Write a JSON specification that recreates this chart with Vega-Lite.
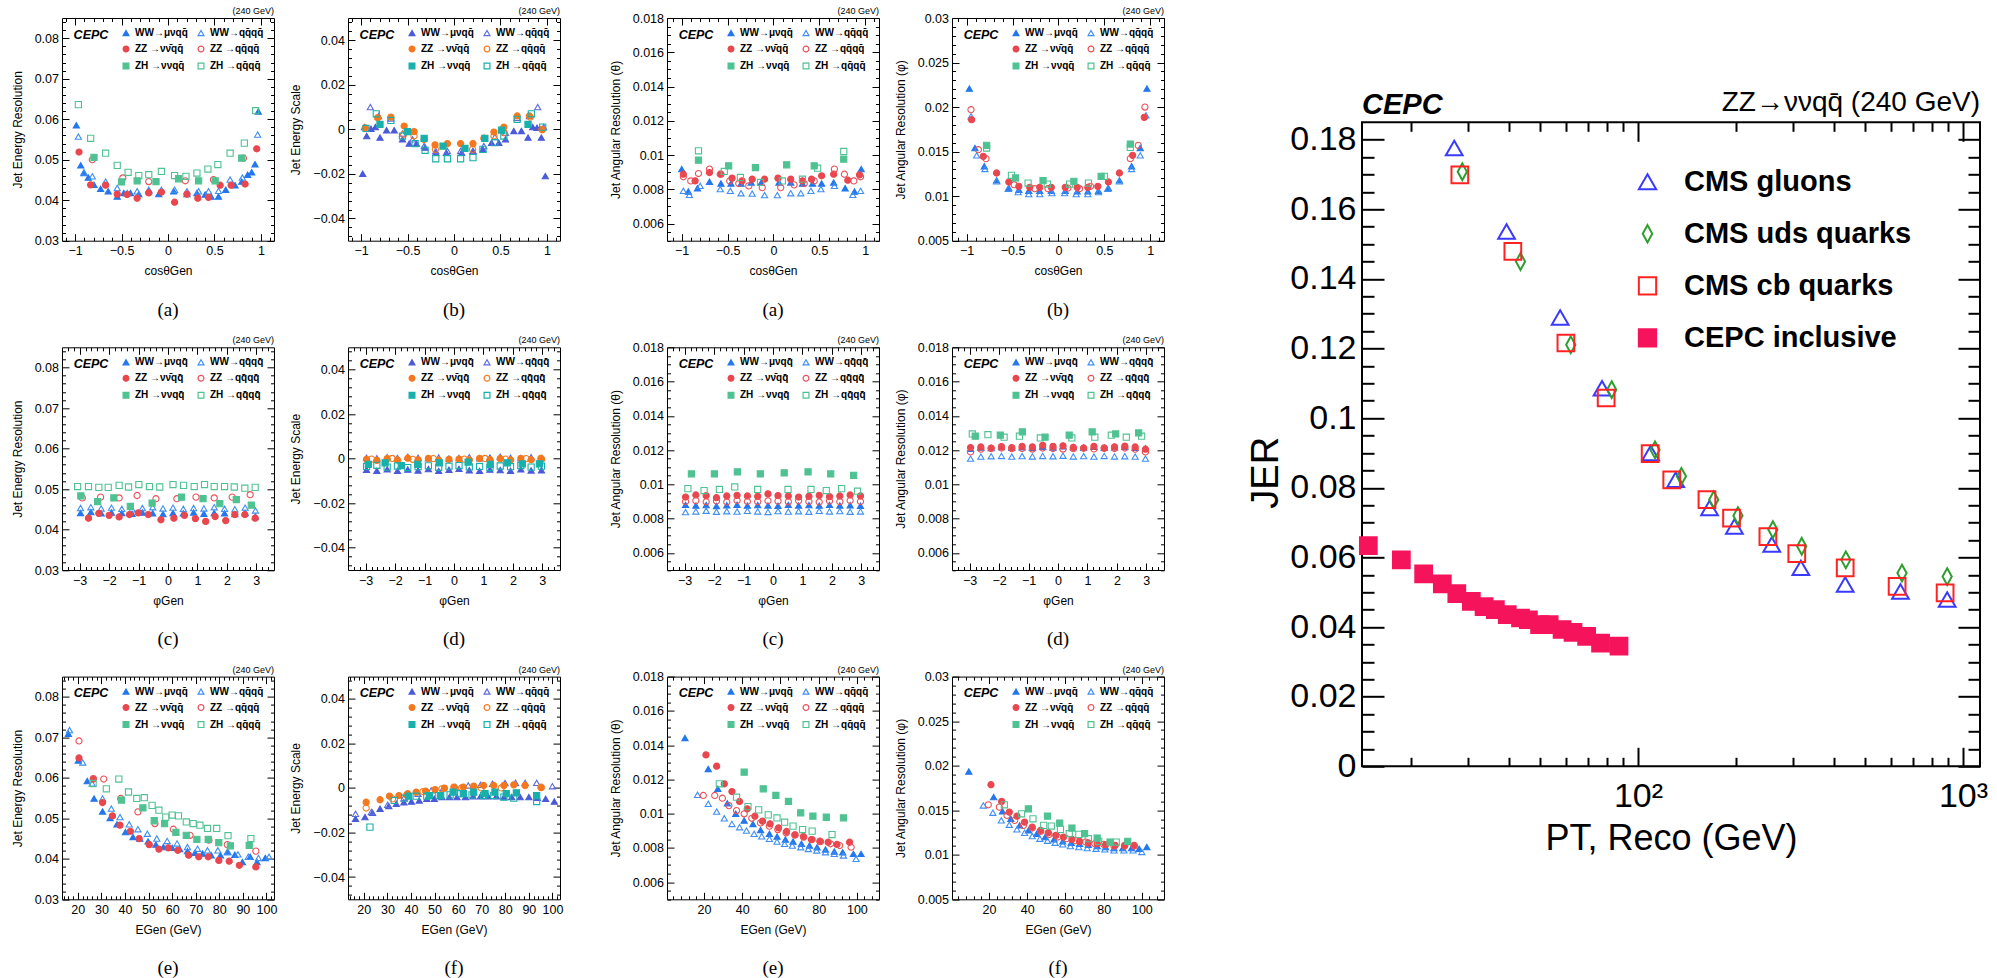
{
"$schema": "https://vega.github.io/schema/vega-lite/v6.json",
"padding": {"left": 10, "top": 6, "right": 0, "bottom": 0},
"background": "white",
"config": {
 "view": {"stroke": "black", "strokeWidth": 1},
 "axis": {"domain": false, "grid": false, "tickColor": "black", "tickWidth": 1, "labelFont": "Liberation Sans", "labelFontSize": 12.5, "labelColor": "black", "titleFont": "Liberation Sans", "titleFontSize": 12, "titleFontWeight": "normal", "titleColor": "black", "labelFlush": false, "labelOverlap": false},
 "legend": {"orient": "top-right", "offset": 10, "columns": 2, "padding": 0, "labelFont": "Liberation Sans", "labelFontSize": 10, "labelFontWeight": "bold", "labelColor": "black", "symbolSize": 34, "symbolStrokeWidth": 1.2, "rowPadding": 5, "columnPadding": 7, "labelOffset": 4, "labelLimit": 400},
 "text": {"font": "Liberation Sans", "color": "black"},
 "title": {"font": "Liberation Serif", "fontSize": 19, "fontWeight": "normal", "color": "black"}
},
"data": {"values": [
{"p":"A","s":"W1","x":-0.986,"y":0.0585},{"p":"A","s":"W1","x":-0.939,"y":0.0486},{"p":"A","s":"W1","x":-0.904,"y":0.0467},{"p":"A","s":"W1","x":-0.857,"y":0.0456},{"p":"A","s":"W1","x":-0.796,"y":0.0438},{"p":"A","s":"W1","x":-0.725,"y":0.0428},{"p":"A","s":"W1","x":-0.643,"y":0.0422},{"p":"A","s":"W1","x":-0.546,"y":0.0409},{"p":"A","s":"W1","x":-0.475,"y":0.0418},{"p":"A","s":"W1","x":-0.404,"y":0.0418},{"p":"A","s":"W1","x":-0.314,"y":0.0415},{"p":"A","s":"W1","x":-0.207,"y":0.0423},{"p":"A","s":"W1","x":-0.1,"y":0.0415},{"p":"A","s":"W1","x":0.061,"y":0.0422},{"p":"A","s":"W1","x":0.204,"y":0.0415},{"p":"A","s":"W1","x":0.311,"y":0.0418},{"p":"A","s":"W1","x":0.4,"y":0.0414},{"p":"A","s":"W1","x":0.464,"y":0.0409},{"p":"A","s":"W1","x":0.543,"y":0.0409},{"p":"A","s":"W1","x":0.621,"y":0.0426},{"p":"A","s":"W1","x":0.721,"y":0.0437},{"p":"A","s":"W1","x":0.793,"y":0.0446},{"p":"A","s":"W1","x":0.857,"y":0.0463},{"p":"A","s":"W1","x":0.9,"y":0.0469},{"p":"A","s":"W1","x":0.936,"y":0.0489},{"p":"A","s":"W1","x":0.971,"y":0.0619},
{"p":"A","s":"W2","x":-0.964,"y":0.0557},{"p":"A","s":"W2","x":-0.904,"y":0.0469},{"p":"A","s":"W2","x":-0.814,"y":0.0459},{"p":"A","s":"W2","x":-0.671,"y":0.0446},{"p":"A","s":"W2","x":-0.546,"y":0.043},{"p":"A","s":"W2","x":-0.439,"y":0.0418},{"p":"A","s":"W2","x":-0.332,"y":0.0422},{"p":"A","s":"W2","x":-0.207,"y":0.0426},{"p":"A","s":"W2","x":-0.071,"y":0.0426},{"p":"A","s":"W2","x":0.071,"y":0.0426},{"p":"A","s":"W2","x":0.204,"y":0.0422},{"p":"A","s":"W2","x":0.329,"y":0.0422},{"p":"A","s":"W2","x":0.436,"y":0.0422},{"p":"A","s":"W2","x":0.543,"y":0.0423},{"p":"A","s":"W2","x":0.668,"y":0.0451},{"p":"A","s":"W2","x":0.8,"y":0.0456},{"p":"A","s":"W2","x":0.964,"y":0.0562},
{"p":"A","s":"Z1","x":-0.957,"y":0.0519},{"p":"A","s":"Z1","x":-0.832,"y":0.0438},{"p":"A","s":"Z1","x":-0.671,"y":0.0437},{"p":"A","s":"Z1","x":-0.546,"y":0.0415},{"p":"A","s":"Z1","x":-0.439,"y":0.0414},{"p":"A","s":"Z1","x":-0.332,"y":0.0405},{"p":"A","s":"Z1","x":-0.207,"y":0.0418},{"p":"A","s":"Z1","x":-0.071,"y":0.042},{"p":"A","s":"Z1","x":0.071,"y":0.0395},{"p":"A","s":"Z1","x":0.204,"y":0.0415},{"p":"A","s":"Z1","x":0.321,"y":0.0405},{"p":"A","s":"Z1","x":0.436,"y":0.0407},{"p":"A","s":"Z1","x":0.561,"y":0.0437},{"p":"A","s":"Z1","x":0.679,"y":0.0437},{"p":"A","s":"Z1","x":0.829,"y":0.044},{"p":"A","s":"Z1","x":0.954,"y":0.0527},
{"p":"A","s":"Z2","x":-0.814,"y":0.05},{"p":"A","s":"Z2","x":-0.486,"y":0.0455},{"p":"A","s":"Z2","x":-0.207,"y":0.0446},{"p":"A","s":"Z2","x":0.186,"y":0.0448},{"p":"A","s":"Z2","x":0.489,"y":0.0451},{"p":"A","s":"Z2","x":0.811,"y":0.0504},
{"p":"A","s":"H1","x":-0.796,"y":0.0506},{"p":"A","s":"H1","x":-0.5,"y":0.0445},{"p":"A","s":"H1","x":-0.332,"y":0.0448},{"p":"A","s":"H1","x":-0.129,"y":0.0446},{"p":"A","s":"H1","x":0.114,"y":0.0453},{"p":"A","s":"H1","x":0.329,"y":0.0448},{"p":"A","s":"H1","x":0.507,"y":0.0448},{"p":"A","s":"H1","x":0.793,"y":0.0504},
{"p":"A","s":"H2","x":-0.964,"y":0.0636},{"p":"A","s":"H2","x":-0.832,"y":0.0553},{"p":"A","s":"H2","x":-0.671,"y":0.0516},{"p":"A","s":"H2","x":-0.546,"y":0.0486},{"p":"A","s":"H2","x":-0.429,"y":0.0469},{"p":"A","s":"H2","x":-0.314,"y":0.0461},{"p":"A","s":"H2","x":-0.207,"y":0.0463},{"p":"A","s":"H2","x":-0.071,"y":0.0471},{"p":"A","s":"H2","x":0.071,"y":0.0461},{"p":"A","s":"H2","x":0.193,"y":0.0459},{"p":"A","s":"H2","x":0.311,"y":0.0467},{"p":"A","s":"H2","x":0.429,"y":0.0477},{"p":"A","s":"H2","x":0.536,"y":0.0488},{"p":"A","s":"H2","x":0.668,"y":0.0516},{"p":"A","s":"H2","x":0.821,"y":0.0541},{"p":"A","s":"H2","x":0.943,"y":0.0621},
{"p":"B","s":"W1","x":-0.982,"y":-0.0199},{"p":"B","s":"W1","x":-0.939,"y":-0.003},{"p":"B","s":"W1","x":-0.893,"y":0.0003},{"p":"B","s":"W1","x":-0.846,"y":0.001},{"p":"B","s":"W1","x":-0.796,"y":-0.0037},{"p":"B","s":"W1","x":-0.725,"y":-0.0004},{"p":"B","s":"W1","x":-0.643,"y":-0.0004},{"p":"B","s":"W1","x":-0.554,"y":-0.0045},{"p":"B","s":"W1","x":-0.482,"y":-0.0064},{"p":"B","s":"W1","x":-0.404,"y":-0.0064},{"p":"B","s":"W1","x":-0.311,"y":-0.0082},{"p":"B","s":"W1","x":-0.196,"y":-0.0105},{"p":"B","s":"W1","x":-0.082,"y":-0.0105},{"p":"B","s":"W1","x":0.082,"y":-0.0105},{"p":"B","s":"W1","x":0.204,"y":-0.0097},{"p":"B","s":"W1","x":0.311,"y":-0.009},{"p":"B","s":"W1","x":0.404,"y":-0.006},{"p":"B","s":"W1","x":0.482,"y":-0.006},{"p":"B","s":"W1","x":0.554,"y":-0.0045},{"p":"B","s":"W1","x":0.643,"y":-0.0007},{"p":"B","s":"W1","x":0.725,"y":-0.0007},{"p":"B","s":"W1","x":0.796,"y":-0.0037},{"p":"B","s":"W1","x":0.846,"y":0.001},{"p":"B","s":"W1","x":0.893,"y":0.0007},{"p":"B","s":"W1","x":0.939,"y":-0.0037},{"p":"B","s":"W1","x":0.982,"y":-0.021},
{"p":"B","s":"W2","x":-0.964,"y":0.001},{"p":"B","s":"W2","x":-0.9,"y":0.01},{"p":"B","s":"W2","x":-0.811,"y":0.006},{"p":"B","s":"W2","x":-0.679,"y":0.0049},{"p":"B","s":"W2","x":-0.554,"y":-0.0019},{"p":"B","s":"W2","x":-0.446,"y":-0.0045},{"p":"B","s":"W2","x":-0.321,"y":-0.0075},{"p":"B","s":"W2","x":-0.196,"y":-0.0097},{"p":"B","s":"W2","x":-0.071,"y":-0.0097},{"p":"B","s":"W2","x":0.071,"y":-0.0097},{"p":"B","s":"W2","x":0.204,"y":-0.0097},{"p":"B","s":"W2","x":0.321,"y":-0.0075},{"p":"B","s":"W2","x":0.439,"y":-0.0034},{"p":"B","s":"W2","x":0.554,"y":-0.0015},{"p":"B","s":"W2","x":0.679,"y":0.0052},{"p":"B","s":"W2","x":0.811,"y":0.006},{"p":"B","s":"W2","x":0.9,"y":0.01},{"p":"B","s":"W2","x":0.964,"y":0.001},
{"p":"B","s":"Z1","x":-0.954,"y":0.0007},{"p":"B","s":"Z1","x":-0.821,"y":0.0052},{"p":"B","s":"Z1","x":-0.679,"y":0.0055},{"p":"B","s":"Z1","x":-0.536,"y":0.0015},{"p":"B","s":"Z1","x":-0.429,"y":-0.001},{"p":"B","s":"Z1","x":-0.321,"y":-0.0045},{"p":"B","s":"Z1","x":-0.204,"y":-0.007},{"p":"B","s":"Z1","x":-0.071,"y":-0.0064},{"p":"B","s":"Z1","x":0.071,"y":-0.0064},{"p":"B","s":"Z1","x":0.204,"y":-0.0064},{"p":"B","s":"Z1","x":0.321,"y":-0.004},{"p":"B","s":"Z1","x":0.429,"y":-0.0012},{"p":"B","s":"Z1","x":0.536,"y":0.001},{"p":"B","s":"Z1","x":0.679,"y":0.006},{"p":"B","s":"Z1","x":0.811,"y":0.006},{"p":"B","s":"Z1","x":0.946,"y":0},
{"p":"B","s":"Z2","x":-0.82,"y":0.0052},{"p":"B","s":"Z2","x":-0.54,"y":-0.0022},{"p":"B","s":"Z2","x":-0.43,"y":-0.003},{"p":"B","s":"Z2","x":-0.2,"y":-0.009},{"p":"B","s":"Z2","x":0.2,"y":-0.009},{"p":"B","s":"Z2","x":0.43,"y":-0.003},{"p":"B","s":"Z2","x":0.54,"y":-0.0015},{"p":"B","s":"Z2","x":0.82,"y":0.0055},{"p":"B","s":"Z2","x":0.95,"y":-0.0002},
{"p":"B","s":"H1","x":-0.796,"y":0.0022},{"p":"B","s":"H1","x":-0.5,"y":-0.001},{"p":"B","s":"H1","x":-0.321,"y":-0.004},{"p":"B","s":"H1","x":-0.118,"y":-0.0075},{"p":"B","s":"H1","x":0.118,"y":-0.0085},{"p":"B","s":"H1","x":0.332,"y":-0.004},{"p":"B","s":"H1","x":0.511,"y":-0.0004},{"p":"B","s":"H1","x":0.796,"y":0.0022},
{"p":"B","s":"H2","x":-0.946,"y":0.0004},{"p":"B","s":"H2","x":-0.836,"y":0.007},{"p":"B","s":"H2","x":-0.679,"y":0.004},{"p":"B","s":"H2","x":-0.554,"y":-0.003},{"p":"B","s":"H2","x":-0.418,"y":-0.0064},{"p":"B","s":"H2","x":-0.311,"y":-0.0094},{"p":"B","s":"H2","x":-0.196,"y":-0.0132},{"p":"B","s":"H2","x":-0.071,"y":-0.0132},{"p":"B","s":"H2","x":0.071,"y":-0.0132},{"p":"B","s":"H2","x":0.204,"y":-0.0127},{"p":"B","s":"H2","x":0.311,"y":-0.009},{"p":"B","s":"H2","x":0.439,"y":-0.006},{"p":"B","s":"H2","x":0.536,"y":-0.003},{"p":"B","s":"H2","x":0.679,"y":0.0045},{"p":"B","s":"H2","x":0.832,"y":0.007},{"p":"B","s":"H2","x":0.954,"y":0.001},
{"p":"C","s":"W1","x":-2.97,"y":0.0441},{"p":"C","s":"W1","x":-2.62,"y":0.0443},{"p":"C","s":"W1","x":-2.27,"y":0.044},{"p":"C","s":"W1","x":-1.92,"y":0.0442},{"p":"C","s":"W1","x":-1.57,"y":0.0441},{"p":"C","s":"W1","x":-1.22,"y":0.0439},{"p":"C","s":"W1","x":-0.87,"y":0.0442},{"p":"C","s":"W1","x":-0.52,"y":0.044},{"p":"C","s":"W1","x":-0.17,"y":0.0438},{"p":"C","s":"W1","x":0.17,"y":0.0441},{"p":"C","s":"W1","x":0.52,"y":0.044},{"p":"C","s":"W1","x":0.87,"y":0.0442},{"p":"C","s":"W1","x":1.22,"y":0.0439},{"p":"C","s":"W1","x":1.57,"y":0.0441},{"p":"C","s":"W1","x":1.92,"y":0.044},{"p":"C","s":"W1","x":2.27,"y":0.0438},{"p":"C","s":"W1","x":2.62,"y":0.0441},{"p":"C","s":"W1","x":2.97,"y":0.0432},
{"p":"C","s":"W2","x":-2.97,"y":0.0453},{"p":"C","s":"W2","x":-2.62,"y":0.0455},{"p":"C","s":"W2","x":-2.27,"y":0.0452},{"p":"C","s":"W2","x":-1.92,"y":0.0454},{"p":"C","s":"W2","x":-1.57,"y":0.0451},{"p":"C","s":"W2","x":-1.22,"y":0.045},{"p":"C","s":"W2","x":-0.87,"y":0.0453},{"p":"C","s":"W2","x":-0.52,"y":0.0455},{"p":"C","s":"W2","x":-0.17,"y":0.0452},{"p":"C","s":"W2","x":0.17,"y":0.0454},{"p":"C","s":"W2","x":0.52,"y":0.0451},{"p":"C","s":"W2","x":0.87,"y":0.0453},{"p":"C","s":"W2","x":1.22,"y":0.0452},{"p":"C","s":"W2","x":1.57,"y":0.0455},{"p":"C","s":"W2","x":1.92,"y":0.0451},{"p":"C","s":"W2","x":2.27,"y":0.045},{"p":"C","s":"W2","x":2.62,"y":0.0454},{"p":"C","s":"W2","x":2.97,"y":0.0447},
{"p":"C","s":"Z1","x":-2.7,"y":0.0428},{"p":"C","s":"Z1","x":-2.35,"y":0.044},{"p":"C","s":"Z1","x":-2.0,"y":0.0435},{"p":"C","s":"Z1","x":-1.66,"y":0.0431},{"p":"C","s":"Z1","x":-1.31,"y":0.0437},{"p":"C","s":"Z1","x":-1.01,"y":0.0441},{"p":"C","s":"Z1","x":-0.67,"y":0.0437},{"p":"C","s":"Z1","x":-0.24,"y":0.0424},{"p":"C","s":"Z1","x":0.2,"y":0.0428},{"p":"C","s":"Z1","x":0.56,"y":0.0435},{"p":"C","s":"Z1","x":0.93,"y":0.0427},{"p":"C","s":"Z1","x":1.28,"y":0.042},{"p":"C","s":"Z1","x":1.6,"y":0.0432},{"p":"C","s":"Z1","x":1.96,"y":0.0422},{"p":"C","s":"Z1","x":2.27,"y":0.0437},{"p":"C","s":"Z1","x":2.61,"y":0.0437},{"p":"C","s":"Z1","x":2.96,"y":0.0428},
{"p":"C","s":"Z2","x":-2.91,"y":0.0478},{"p":"C","s":"Z2","x":-2.29,"y":0.048},{"p":"C","s":"Z2","x":-1.66,"y":0.0478},{"p":"C","s":"Z2","x":-1.05,"y":0.0484},{"p":"C","s":"Z2","x":-0.41,"y":0.0476},{"p":"C","s":"Z2","x":0.3,"y":0.0476},{"p":"C","s":"Z2","x":0.95,"y":0.048},{"p":"C","s":"Z2","x":1.57,"y":0.0478},{"p":"C","s":"Z2","x":2.18,"y":0.048},{"p":"C","s":"Z2","x":2.79,"y":0.0486},
{"p":"C","s":"H1","x":-2.96,"y":0.0483},{"p":"C","s":"H1","x":-2.39,"y":0.0469},{"p":"C","s":"H1","x":-1.84,"y":0.0478},{"p":"C","s":"H1","x":-1.28,"y":0.0457},{"p":"C","s":"H1","x":-0.54,"y":0.0465},{"p":"C","s":"H1","x":0.46,"y":0.048},{"p":"C","s":"H1","x":1.19,"y":0.0476},{"p":"C","s":"H1","x":1.76,"y":0.0464},{"p":"C","s":"H1","x":2.32,"y":0.0474},{"p":"C","s":"H1","x":2.83,"y":0.046},
{"p":"C","s":"H2","x":-3.07,"y":0.0506},{"p":"C","s":"H2","x":-2.7,"y":0.0506},{"p":"C","s":"H2","x":-2.35,"y":0.0504},{"p":"C","s":"H2","x":-2.03,"y":0.0504},{"p":"C","s":"H2","x":-1.66,"y":0.0509},{"p":"C","s":"H2","x":-1.34,"y":0.0505},{"p":"C","s":"H2","x":-0.99,"y":0.0511},{"p":"C","s":"H2","x":-0.63,"y":0.0506},{"p":"C","s":"H2","x":-0.28,"y":0.0505},{"p":"C","s":"H2","x":0.17,"y":0.0511},{"p":"C","s":"H2","x":0.53,"y":0.0509},{"p":"C","s":"H2","x":0.89,"y":0.0506},{"p":"C","s":"H2","x":1.24,"y":0.0511},{"p":"C","s":"H2","x":1.57,"y":0.0506},{"p":"C","s":"H2","x":1.92,"y":0.0506},{"p":"C","s":"H2","x":2.25,"y":0.0505},{"p":"C","s":"H2","x":2.61,"y":0.0502},{"p":"C","s":"H2","x":2.96,"y":0.0504},
{"p":"D","s":"W1","x":-2.97,"y":-0.005},{"p":"D","s":"W1","x":-2.62,"y":-0.0054},{"p":"D","s":"W1","x":-2.27,"y":-0.0048},{"p":"D","s":"W1","x":-1.92,"y":-0.0055},{"p":"D","s":"W1","x":-1.57,"y":-0.0049},{"p":"D","s":"W1","x":-1.22,"y":-0.0053},{"p":"D","s":"W1","x":-0.87,"y":-0.0047},{"p":"D","s":"W1","x":-0.52,"y":-0.0055},{"p":"D","s":"W1","x":-0.17,"y":-0.005},{"p":"D","s":"W1","x":0.17,"y":-0.0046},{"p":"D","s":"W1","x":0.52,"y":-0.0052},{"p":"D","s":"W1","x":0.87,"y":-0.0055},{"p":"D","s":"W1","x":1.22,"y":-0.0049},{"p":"D","s":"W1","x":1.57,"y":-0.0051},{"p":"D","s":"W1","x":1.92,"y":-0.0054},{"p":"D","s":"W1","x":2.27,"y":-0.0048},{"p":"D","s":"W1","x":2.62,"y":-0.0053},{"p":"D","s":"W1","x":2.97,"y":-0.0052},
{"p":"D","s":"W2","x":-2.97,"y":0.0004},{"p":"D","s":"W2","x":-2.62,"y":0.0002},{"p":"D","s":"W2","x":-2.27,"y":0.0006},{"p":"D","s":"W2","x":-1.92,"y":0.0003},{"p":"D","s":"W2","x":-1.57,"y":0.0008},{"p":"D","s":"W2","x":-1.22,"y":0.0004},{"p":"D","s":"W2","x":-0.87,"y":0.0002},{"p":"D","s":"W2","x":-0.52,"y":0.0005},{"p":"D","s":"W2","x":-0.17,"y":0.0001},{"p":"D","s":"W2","x":0.17,"y":0.0003},{"p":"D","s":"W2","x":0.52,"y":0.0006},{"p":"D","s":"W2","x":0.87,"y":0.0002},{"p":"D","s":"W2","x":1.22,"y":0.0005},{"p":"D","s":"W2","x":1.57,"y":0.0009},{"p":"D","s":"W2","x":1.92,"y":0.0004},{"p":"D","s":"W2","x":2.27,"y":0.0002},{"p":"D","s":"W2","x":2.62,"y":0.0006},{"p":"D","s":"W2","x":2.97,"y":0.0003},
{"p":"D","s":"Z1","x":-2.97,"y":-0.0003},{"p":"D","s":"Z1","x":-2.62,"y":-0.0008},{"p":"D","s":"Z1","x":-2.27,"y":0},{"p":"D","s":"Z1","x":-1.92,"y":-0.0006},{"p":"D","s":"Z1","x":-1.57,"y":0.0002},{"p":"D","s":"Z1","x":-1.22,"y":-0.0005},{"p":"D","s":"Z1","x":-0.87,"y":0.0001},{"p":"D","s":"Z1","x":-0.52,"y":-0.0007},{"p":"D","s":"Z1","x":-0.17,"y":-0.0003},{"p":"D","s":"Z1","x":0.17,"y":-0.0002},{"p":"D","s":"Z1","x":0.52,"y":-0.0006},{"p":"D","s":"Z1","x":0.87,"y":0.0001},{"p":"D","s":"Z1","x":1.22,"y":-0.0004},{"p":"D","s":"Z1","x":1.57,"y":0},{"p":"D","s":"Z1","x":1.92,"y":-0.0006},{"p":"D","s":"Z1","x":2.27,"y":0.0001},{"p":"D","s":"Z1","x":2.62,"y":-0.0005},{"p":"D","s":"Z1","x":2.97,"y":-0.0002},
{"p":"D","s":"Z2","x":-2.8,"y":-0.0002},{"p":"D","s":"Z2","x":-2.1,"y":0.0001},{"p":"D","s":"Z2","x":-1.4,"y":-0.0003},{"p":"D","s":"Z2","x":-0.7,"y":0},{"p":"D","s":"Z2","x":0.35,"y":-0.0002},{"p":"D","s":"Z2","x":1.05,"y":0.0001},{"p":"D","s":"Z2","x":1.75,"y":-0.0002},{"p":"D","s":"Z2","x":2.45,"y":0},{"p":"D","s":"Z2","x":2.95,"y":0.0001},
{"p":"D","s":"H1","x":-2.91,"y":-0.0026},{"p":"D","s":"H1","x":-2.34,"y":-0.0019},{"p":"D","s":"H1","x":-1.79,"y":-0.0031},{"p":"D","s":"H1","x":-1.23,"y":-0.0026},{"p":"D","s":"H1","x":-0.5,"y":-0.0019},{"p":"D","s":"H1","x":0.48,"y":-0.0016},{"p":"D","s":"H1","x":1.23,"y":-0.0026},{"p":"D","s":"H1","x":1.81,"y":-0.0019},{"p":"D","s":"H1","x":2.32,"y":-0.0023},{"p":"D","s":"H1","x":2.9,"y":-0.0023},
{"p":"D","s":"H2","x":-2.97,"y":-0.0035},{"p":"D","s":"H2","x":-2.62,"y":-0.003},{"p":"D","s":"H2","x":-2.27,"y":-0.0038},{"p":"D","s":"H2","x":-1.92,"y":-0.0033},{"p":"D","s":"H2","x":-1.57,"y":-0.004},{"p":"D","s":"H2","x":-1.22,"y":-0.0036},{"p":"D","s":"H2","x":-0.87,"y":-0.0032},{"p":"D","s":"H2","x":-0.52,"y":-0.0039},{"p":"D","s":"H2","x":-0.17,"y":-0.0034},{"p":"D","s":"H2","x":0.17,"y":-0.0031},{"p":"D","s":"H2","x":0.52,"y":-0.0037},{"p":"D","s":"H2","x":0.87,"y":-0.0035},{"p":"D","s":"H2","x":1.22,"y":-0.004},{"p":"D","s":"H2","x":1.57,"y":-0.0033},{"p":"D","s":"H2","x":1.92,"y":-0.0036},{"p":"D","s":"H2","x":2.27,"y":-0.0031},{"p":"D","s":"H2","x":2.62,"y":-0.0038},{"p":"D","s":"H2","x":2.97,"y":-0.0034},
{"p":"E","s":"W1","x":16,"y":0.0709},{"p":"E","s":"W1","x":20.2,"y":0.0643},{"p":"E","s":"W1","x":24,"y":0.0592},{"p":"E","s":"W1","x":26.9,"y":0.0549},{"p":"E","s":"W1","x":30.5,"y":0.0517},{"p":"E","s":"W1","x":33.7,"y":0.0501},{"p":"E","s":"W1","x":36.6,"y":0.0485},{"p":"E","s":"W1","x":40.2,"y":0.0466},{"p":"E","s":"W1","x":43.4,"y":0.0454},{"p":"E","s":"W1","x":46.3,"y":0.045},{"p":"E","s":"W1","x":49.8,"y":0.0443},{"p":"E","s":"W1","x":53.1,"y":0.0435},{"p":"E","s":"W1","x":56.3,"y":0.0429},{"p":"E","s":"W1","x":60,"y":0.0427},{"p":"E","s":"W1","x":63.2,"y":0.0424},{"p":"E","s":"W1","x":66.5,"y":0.0419},{"p":"E","s":"W1","x":69.7,"y":0.0415},{"p":"E","s":"W1","x":72.9,"y":0.0413},{"p":"E","s":"W1","x":76.6,"y":0.0409},{"p":"E","s":"W1","x":80.5,"y":0.0409},{"p":"E","s":"W1","x":83.4,"y":0.0417},{"p":"E","s":"W1","x":86.6,"y":0.041},{"p":"E","s":"W1","x":89.8,"y":0.0392},{"p":"E","s":"W1","x":93.1,"y":0.0405},{"p":"E","s":"W1","x":96,"y":0.0392},{"p":"E","s":"W1","x":99.5,"y":0.0402},
{"p":"E","s":"W2","x":16.5,"y":0.0718},{"p":"E","s":"W2","x":22.1,"y":0.0638},{"p":"E","s":"W2","x":26.1,"y":0.0586},{"p":"E","s":"W2","x":30.5,"y":0.0549},{"p":"E","s":"W2","x":34.2,"y":0.0524},{"p":"E","s":"W2","x":37.9,"y":0.0503},{"p":"E","s":"W2","x":41.8,"y":0.0485},{"p":"E","s":"W2","x":45.5,"y":0.0473},{"p":"E","s":"W2","x":49.5,"y":0.0462},{"p":"E","s":"W2","x":53.5,"y":0.045},{"p":"E","s":"W2","x":57.9,"y":0.0444},{"p":"E","s":"W2","x":62.1,"y":0.0438},{"p":"E","s":"W2","x":66.5,"y":0.0429},{"p":"E","s":"W2","x":70.8,"y":0.0425},{"p":"E","s":"W2","x":75,"y":0.0421},{"p":"E","s":"W2","x":79.4,"y":0.0421},{"p":"E","s":"W2","x":83.7,"y":0.0417},{"p":"E","s":"W2","x":87.9,"y":0.0411},{"p":"E","s":"W2","x":92.3,"y":0.0405},{"p":"E","s":"W2","x":96.6,"y":0.0402},{"p":"E","s":"W2","x":101.1,"y":0.0405},
{"p":"E","s":"Z1","x":20.5,"y":0.0649},{"p":"E","s":"Z1","x":26.6,"y":0.0597},{"p":"E","s":"Z1","x":30.5,"y":0.0539},{"p":"E","s":"Z1","x":34.7,"y":0.0506},{"p":"E","s":"Z1","x":37.9,"y":0.0483},{"p":"E","s":"Z1","x":42.3,"y":0.0468},{"p":"E","s":"Z1","x":46,"y":0.045},{"p":"E","s":"Z1","x":50.3,"y":0.0435},{"p":"E","s":"Z1","x":54.4,"y":0.0424},{"p":"E","s":"Z1","x":58.4,"y":0.0427},{"p":"E","s":"Z1","x":62.4,"y":0.0421},{"p":"E","s":"Z1","x":67,"y":0.0409},{"p":"E","s":"Z1","x":71.3,"y":0.0405},{"p":"E","s":"Z1","x":75.3,"y":0.0405},{"p":"E","s":"Z1","x":79.8,"y":0.0396},{"p":"E","s":"Z1","x":84.2,"y":0.0394},{"p":"E","s":"Z1","x":88.5,"y":0.0384},{"p":"E","s":"Z1","x":95.5,"y":0.038},
{"p":"E","s":"Z2","x":20.5,"y":0.0691},{"p":"E","s":"Z2","x":26.6,"y":0.0598},{"p":"E","s":"Z2","x":31,"y":0.0597},{"p":"E","s":"Z2","x":38.2,"y":0.0549},{"p":"E","s":"Z2","x":45.5,"y":0.0516},{"p":"E","s":"Z2","x":52.7,"y":0.0487},{"p":"E","s":"Z2","x":60.5,"y":0.0473},{"p":"E","s":"Z2","x":67.6,"y":0.0458},{"p":"E","s":"Z2","x":75.6,"y":0.0446},{"p":"E","s":"Z2","x":83.4,"y":0.0435},{"p":"E","s":"Z2","x":95.5,"y":0.0419},
{"p":"E","s":"H1","x":38.5,"y":0.0545},{"p":"E","s":"H1","x":47.6,"y":0.0526},{"p":"E","s":"H1","x":52.4,"y":0.0494},{"p":"E","s":"H1","x":56.8,"y":0.0487},{"p":"E","s":"H1","x":61.6,"y":0.0465},{"p":"E","s":"H1","x":66,"y":0.0458},{"p":"E","s":"H1","x":70.5,"y":0.0448},{"p":"E","s":"H1","x":75.3,"y":0.0448},{"p":"E","s":"H1","x":79.8,"y":0.044},{"p":"E","s":"H1","x":84.7,"y":0.0432},{"p":"E","s":"H1","x":92.7,"y":0.0433},
{"p":"E","s":"H2","x":26.5,"y":0.0586},{"p":"E","s":"H2","x":32.1,"y":0.0573},{"p":"E","s":"H2","x":37.4,"y":0.0597},{"p":"E","s":"H2","x":41.5,"y":0.0565},{"p":"E","s":"H2","x":45,"y":0.0549},{"p":"E","s":"H2","x":48.2,"y":0.0551},{"p":"E","s":"H2","x":51.5,"y":0.0532},{"p":"E","s":"H2","x":54.4,"y":0.052},{"p":"E","s":"H2","x":57.3,"y":0.0503},{"p":"E","s":"H2","x":60,"y":0.0508},{"p":"E","s":"H2","x":62.7,"y":0.0506},{"p":"E","s":"H2","x":66,"y":0.0491},{"p":"E","s":"H2","x":68.9,"y":0.0487},{"p":"E","s":"H2","x":71.8,"y":0.0483},{"p":"E","s":"H2","x":75,"y":0.0475},{"p":"E","s":"H2","x":78.9,"y":0.0475},{"p":"E","s":"H2","x":83.7,"y":0.0457},{"p":"E","s":"H2","x":93.4,"y":0.045},
{"p":"F","s":"W1","x":16.5,"y":-0.0138},{"p":"F","s":"W1","x":20.5,"y":-0.0131},{"p":"F","s":"W1","x":23.7,"y":-0.0111},{"p":"F","s":"W1","x":26.9,"y":-0.0093},{"p":"F","s":"W1","x":30.6,"y":-0.0081},{"p":"F","s":"W1","x":33.8,"y":-0.0071},{"p":"F","s":"W1","x":37,"y":-0.0064},{"p":"F","s":"W1","x":40.2,"y":-0.0061},{"p":"F","s":"W1","x":43.5,"y":-0.0056},{"p":"F","s":"W1","x":46.7,"y":-0.0049},{"p":"F","s":"W1","x":49.9,"y":-0.0049},{"p":"F","s":"W1","x":53.1,"y":-0.0041},{"p":"F","s":"W1","x":56.3,"y":-0.0041},{"p":"F","s":"W1","x":59.5,"y":-0.0041},{"p":"F","s":"W1","x":63.1,"y":-0.0041},{"p":"F","s":"W1","x":66.3,"y":-0.0037},{"p":"F","s":"W1","x":69.5,"y":-0.0037},{"p":"F","s":"W1","x":72.7,"y":-0.0037},{"p":"F","s":"W1","x":76.2,"y":-0.0037},{"p":"F","s":"W1","x":79.4,"y":-0.0041},{"p":"F","s":"W1","x":82.7,"y":-0.0041},{"p":"F","s":"W1","x":86.3,"y":-0.0041},{"p":"F","s":"W1","x":90,"y":-0.0041},{"p":"F","s":"W1","x":93.6,"y":-0.0044},{"p":"F","s":"W1","x":97.1,"y":-0.0049},{"p":"F","s":"W1","x":100.8,"y":-0.0061},
{"p":"F","s":"W2","x":16.5,"y":-0.0116},{"p":"F","s":"W2","x":23.2,"y":-0.0108},{"p":"F","s":"W2","x":30.1,"y":-0.0076},{"p":"F","s":"W2","x":37,"y":-0.0046},{"p":"F","s":"W2","x":43,"y":-0.0026},{"p":"F","s":"W2","x":48.6,"y":-0.0011},{"p":"F","s":"W2","x":53.7,"y":-0.0001},{"p":"F","s":"W2","x":59,"y":0.0004},{"p":"F","s":"W2","x":64.3,"y":0.0011},{"p":"F","s":"W2","x":69.5,"y":0.0014},{"p":"F","s":"W2","x":74.6,"y":0.0019},{"p":"F","s":"W2","x":79.9,"y":0.0022},{"p":"F","s":"W2","x":84.3,"y":0.0023},{"p":"F","s":"W2","x":88.4,"y":0.0023},{"p":"F","s":"W2","x":93.3,"y":0.0023},{"p":"F","s":"W2","x":100,"y":0.0008},
{"p":"F","s":"Z1","x":21,"y":-0.0064},{"p":"F","s":"Z1","x":26.9,"y":-0.0053},{"p":"F","s":"Z1","x":30.9,"y":-0.0037},{"p":"F","s":"Z1","x":34.9,"y":-0.0034},{"p":"F","s":"Z1","x":38.6,"y":-0.0026},{"p":"F","s":"Z1","x":42.2,"y":-0.0019},{"p":"F","s":"Z1","x":46.2,"y":-0.0014},{"p":"F","s":"Z1","x":50.2,"y":-0.0007},{"p":"F","s":"Z1","x":54.2,"y":-0.0001},{"p":"F","s":"Z1","x":58.2,"y":0.0004},{"p":"F","s":"Z1","x":62.2,"y":0.0004},{"p":"F","s":"Z1","x":66.6,"y":0.0008},{"p":"F","s":"Z1","x":70.8,"y":0.0011},{"p":"F","s":"Z1","x":75.1,"y":0.0011},{"p":"F","s":"Z1","x":79.4,"y":0.0011},{"p":"F","s":"Z1","x":83.6,"y":0.0014},{"p":"F","s":"Z1","x":88.4,"y":0.0011},{"p":"F","s":"Z1","x":95.2,"y":0.0001},
{"p":"F","s":"Z2","x":21,"y":-0.009},{"p":"F","s":"Z2","x":32.2,"y":-0.0049},{"p":"F","s":"Z2","x":38.2,"y":-0.0031},{"p":"F","s":"Z2","x":45.1,"y":-0.0016},{"p":"F","s":"Z2","x":53.1,"y":-0.0004},{"p":"F","s":"Z2","x":61.4,"y":0},{"p":"F","s":"Z2","x":69.8,"y":0},{"p":"F","s":"Z2","x":78.3,"y":0},{"p":"F","s":"Z2","x":95.2,"y":0.0004},
{"p":"F","s":"H1","x":39,"y":-0.0037},{"p":"F","s":"H1","x":47.8,"y":-0.0034},{"p":"F","s":"H1","x":52.6,"y":-0.0034},{"p":"F","s":"H1","x":57.9,"y":-0.0019},{"p":"F","s":"H1","x":62.2,"y":-0.0026},{"p":"F","s":"H1","x":66.6,"y":-0.0019},{"p":"F","s":"H1","x":71.4,"y":-0.0026},{"p":"F","s":"H1","x":75.6,"y":-0.0019},{"p":"F","s":"H1","x":80.4,"y":-0.0026},{"p":"F","s":"H1","x":84.7,"y":-0.0022},{"p":"F","s":"H1","x":93.3,"y":-0.0034},
{"p":"F","s":"H2","x":22.6,"y":-0.0176},{"p":"F","s":"H2","x":32.9,"y":-0.0056},{"p":"F","s":"H2","x":37.3,"y":-0.0046},{"p":"F","s":"H2","x":42.2,"y":-0.0037},{"p":"F","s":"H2","x":46.7,"y":-0.0037},{"p":"F","s":"H2","x":51.8,"y":-0.0034},{"p":"F","s":"H2","x":56.6,"y":-0.0031},{"p":"F","s":"H2","x":61.1,"y":-0.0026},{"p":"F","s":"H2","x":65.9,"y":-0.0031},{"p":"F","s":"H2","x":70.8,"y":-0.0034},{"p":"F","s":"H2","x":75.1,"y":-0.0034},{"p":"F","s":"H2","x":79.4,"y":-0.0041},{"p":"F","s":"H2","x":83.6,"y":-0.0046},{"p":"F","s":"H2","x":93.3,"y":-0.0061},
{"p":"G","s":"W1","x":-1.0,"y":0.00918},{"p":"G","s":"W1","x":-0.927,"y":0.00787},{"p":"G","s":"W1","x":-0.828,"y":0.00806},{"p":"G","s":"W1","x":-0.697,"y":0.00844},{"p":"G","s":"W1","x":-0.572,"y":0.00834},{"p":"G","s":"W1","x":-0.463,"y":0.00834},{"p":"G","s":"W1","x":-0.353,"y":0.00834},{"p":"G","s":"W1","x":-0.243,"y":0.0084},{"p":"G","s":"W1","x":-0.133,"y":0.0084},{"p":"G","s":"W1","x":0.06,"y":0.0084},{"p":"G","s":"W1","x":0.188,"y":0.0084},{"p":"G","s":"W1","x":0.316,"y":0.00834},{"p":"G","s":"W1","x":0.426,"y":0.00834},{"p":"G","s":"W1","x":0.525,"y":0.00834},{"p":"G","s":"W1","x":0.656,"y":0.0084},{"p":"G","s":"W1","x":0.781,"y":0.00806},{"p":"G","s":"W1","x":0.883,"y":0.00787},{"p":"G","s":"W1","x":0.956,"y":0.00918},
{"p":"G","s":"W2","x":-0.982,"y":0.00791},{"p":"G","s":"W2","x":-0.916,"y":0.00768},{"p":"G","s":"W2","x":-0.799,"y":0.0082},{"p":"G","s":"W2","x":-0.58,"y":0.00801},{"p":"G","s":"W2","x":-0.47,"y":0.00791},{"p":"G","s":"W2","x":-0.353,"y":0.00777},{"p":"G","s":"W2","x":-0.232,"y":0.00775},{"p":"G","s":"W2","x":-0.097,"y":0.00766},{"p":"G","s":"W2","x":0.042,"y":0.00766},{"p":"G","s":"W2","x":0.188,"y":0.00777},{"p":"G","s":"W2","x":0.298,"y":0.00777},{"p":"G","s":"W2","x":0.408,"y":0.00791},{"p":"G","s":"W2","x":0.517,"y":0.00801},{"p":"G","s":"W2","x":0.664,"y":0.0082},{"p":"G","s":"W2","x":0.865,"y":0.00768},{"p":"G","s":"W2","x":0.949,"y":0.00791},
{"p":"G","s":"Z1","x":-0.982,"y":0.00888},{"p":"G","s":"Z1","x":-0.854,"y":0.00849},{"p":"G","s":"Z1","x":-0.697,"y":0.00898},{"p":"G","s":"Z1","x":-0.572,"y":0.00888},{"p":"G","s":"Z1","x":-0.451,"y":0.00865},{"p":"G","s":"Z1","x":-0.342,"y":0.00849},{"p":"G","s":"Z1","x":-0.232,"y":0.00859},{"p":"G","s":"Z1","x":-0.097,"y":0.00859},{"p":"G","s":"Z1","x":0.049,"y":0.00865},{"p":"G","s":"Z1","x":0.188,"y":0.00859},{"p":"G","s":"Z1","x":0.316,"y":0.00849},{"p":"G","s":"Z1","x":0.415,"y":0.00859},{"p":"G","s":"Z1","x":0.525,"y":0.00879},{"p":"G","s":"Z1","x":0.656,"y":0.00888},{"p":"G","s":"Z1","x":0.81,"y":0.00853},{"p":"G","s":"Z1","x":0.938,"y":0.00884},
{"p":"G","s":"Z2","x":-0.982,"y":0.00873},{"p":"G","s":"Z2","x":-0.901,"y":0.00849},{"p":"G","s":"Z2","x":-0.817,"y":0.00892},{"p":"G","s":"Z2","x":-0.697,"y":0.00918},{"p":"G","s":"Z2","x":-0.58,"y":0.00888},{"p":"G","s":"Z2","x":-0.476,"y":0.00849},{"p":"G","s":"Z2","x":-0.378,"y":0.00834},{"p":"G","s":"Z2","x":-0.269,"y":0.0082},{"p":"G","s":"Z2","x":-0.122,"y":0.0081},{"p":"G","s":"Z2","x":0.079,"y":0.0081},{"p":"G","s":"Z2","x":0.225,"y":0.00826},{"p":"G","s":"Z2","x":0.335,"y":0.00834},{"p":"G","s":"Z2","x":0.444,"y":0.00849},{"p":"G","s":"Z2","x":0.664,"y":0.00918},{"p":"G","s":"Z2","x":0.773,"y":0.00888},{"p":"G","s":"Z2","x":0.876,"y":0.00849},{"p":"G","s":"Z2","x":0.949,"y":0.00873},
{"p":"G","s":"H1","x":-0.817,"y":0.0097},{"p":"G","s":"H1","x":-0.488,"y":0.00937},{"p":"G","s":"H1","x":-0.196,"y":0.00927},{"p":"G","s":"H1","x":0.144,"y":0.00943},{"p":"G","s":"H1","x":0.444,"y":0.00937},{"p":"G","s":"H1","x":0.766,"y":0.00976},
{"p":"G","s":"H2","x":-0.817,"y":0.01025},{"p":"G","s":"H2","x":-0.536,"y":0.00904},{"p":"G","s":"H2","x":-0.36,"y":0.00869},{"p":"G","s":"H2","x":-0.141,"y":0.0084},{"p":"G","s":"H2","x":0.097,"y":0.00849},{"p":"G","s":"H2","x":0.316,"y":0.00859},{"p":"G","s":"H2","x":0.481,"y":0.00923},{"p":"G","s":"H2","x":0.766,"y":0.01021},
{"p":"H","s":"W1","x":-0.971,"y":0.02207},{"p":"H","s":"W1","x":-0.91,"y":0.0154},{"p":"H","s":"W1","x":-0.808,"y":0.01335},{"p":"H","s":"W1","x":-0.674,"y":0.01177},{"p":"H","s":"W1","x":-0.541,"y":0.01091},{"p":"H","s":"W1","x":-0.432,"y":0.01073},{"p":"H","s":"W1","x":-0.324,"y":0.01061},{"p":"H","s":"W1","x":-0.204,"y":0.01061},{"p":"H","s":"W1","x":-0.078,"y":0.01061},{"p":"H","s":"W1","x":0.074,"y":0.01061},{"p":"H","s":"W1","x":0.204,"y":0.01054},{"p":"H","s":"W1","x":0.32,"y":0.01054},{"p":"H","s":"W1","x":0.436,"y":0.01061},{"p":"H","s":"W1","x":0.544,"y":0.01091},{"p":"H","s":"W1","x":0.664,"y":0.01177},{"p":"H","s":"W1","x":0.797,"y":0.01335},{"p":"H","s":"W1","x":0.891,"y":0.0154},{"p":"H","s":"W1","x":0.964,"y":0.02207},
{"p":"H","s":"W2","x":-0.953,"y":0.01896},{"p":"H","s":"W2","x":-0.891,"y":0.01458},{"p":"H","s":"W2","x":-0.801,"y":0.01305},{"p":"H","s":"W2","x":-0.674,"y":0.01166},{"p":"H","s":"W2","x":-0.548,"y":0.01084},{"p":"H","s":"W2","x":-0.439,"y":0.01046},{"p":"H","s":"W2","x":-0.324,"y":0.01024},{"p":"H","s":"W2","x":-0.204,"y":0.01024},{"p":"H","s":"W2","x":-0.071,"y":0.01035},{"p":"H","s":"W2","x":0.067,"y":0.01035},{"p":"H","s":"W2","x":0.193,"y":0.01024},{"p":"H","s":"W2","x":0.32,"y":0.01024},{"p":"H","s":"W2","x":0.436,"y":0.01046},{"p":"H","s":"W2","x":0.537,"y":0.01084},{"p":"H","s":"W2","x":0.664,"y":0.01166},{"p":"H","s":"W2","x":0.797,"y":0.01305},{"p":"H","s":"W2","x":0.891,"y":0.01458},{"p":"H","s":"W2","x":0.953,"y":0.01907},
{"p":"H","s":"Z1","x":-0.946,"y":0.01858},{"p":"H","s":"Z1","x":-0.819,"y":0.01447},{"p":"H","s":"Z1","x":-0.674,"y":0.0126},{"p":"H","s":"Z1","x":-0.541,"y":0.01159},{"p":"H","s":"Z1","x":-0.432,"y":0.0111},{"p":"H","s":"Z1","x":-0.313,"y":0.01099},{"p":"H","s":"Z1","x":-0.204,"y":0.01099},{"p":"H","s":"Z1","x":-0.078,"y":0.01099},{"p":"H","s":"Z1","x":0.074,"y":0.01099},{"p":"H","s":"Z1","x":0.204,"y":0.01099},{"p":"H","s":"Z1","x":0.32,"y":0.01099},{"p":"H","s":"Z1","x":0.429,"y":0.0111},{"p":"H","s":"Z1","x":0.544,"y":0.01159},{"p":"H","s":"Z1","x":0.664,"y":0.0126},{"p":"H","s":"Z1","x":0.808,"y":0.01458},{"p":"H","s":"Z1","x":0.935,"y":0.01885},
{"p":"H","s":"Z2","x":-0.953,"y":0.01971},{"p":"H","s":"Z2","x":-0.873,"y":0.01522},{"p":"H","s":"Z2","x":-0.79,"y":0.01421},{"p":"H","s":"Z2","x":-0.483,"y":0.01129},{"p":"H","s":"Z2","x":-0.258,"y":0.01084},{"p":"H","s":"Z2","x":-0.114,"y":0.01084},{"p":"H","s":"Z2","x":0.103,"y":0.01091},{"p":"H","s":"Z2","x":0.23,"y":0.01084},{"p":"H","s":"Z2","x":0.349,"y":0.0111},{"p":"H","s":"Z2","x":0.783,"y":0.01421},{"p":"H","s":"Z2","x":0.87,"y":0.0157},{"p":"H","s":"Z2","x":0.942,"y":0.02},
{"p":"H","s":"H1","x":-0.783,"y":0.0157},{"p":"H","s":"H1","x":-0.468,"y":0.01204},{"p":"H","s":"H1","x":-0.168,"y":0.01174},{"p":"H","s":"H1","x":0.168,"y":0.01166},{"p":"H","s":"H1","x":0.465,"y":0.01222},{"p":"H","s":"H1","x":0.783,"y":0.01585},
{"p":"H","s":"H2","x":-0.783,"y":0.0154},{"p":"H","s":"H2","x":-0.512,"y":0.01234},{"p":"H","s":"H2","x":-0.331,"y":0.01147},{"p":"H","s":"H2","x":-0.121,"y":0.01136},{"p":"H","s":"H2","x":0.121,"y":0.01136},{"p":"H","s":"H2","x":0.327,"y":0.01147},{"p":"H","s":"H2","x":0.501,"y":0.01222},{"p":"H","s":"H2","x":0.783,"y":0.01548},
{"p":"I","s":"W1","x":-2.97,"y":0.0088},{"p":"I","s":"W1","x":-2.62,"y":0.00876},{"p":"I","s":"W1","x":-2.27,"y":0.00879},{"p":"I","s":"W1","x":-1.92,"y":0.00874},{"p":"I","s":"W1","x":-1.57,"y":0.00878},{"p":"I","s":"W1","x":-1.22,"y":0.00881},{"p":"I","s":"W1","x":-0.87,"y":0.00876},{"p":"I","s":"W1","x":-0.52,"y":0.00879},{"p":"I","s":"W1","x":-0.17,"y":0.00877},{"p":"I","s":"W1","x":0.17,"y":0.00875},{"p":"I","s":"W1","x":0.52,"y":0.0088},{"p":"I","s":"W1","x":0.87,"y":0.00877},{"p":"I","s":"W1","x":1.22,"y":0.00879},{"p":"I","s":"W1","x":1.57,"y":0.00876},{"p":"I","s":"W1","x":1.92,"y":0.0088},{"p":"I","s":"W1","x":2.27,"y":0.00877},{"p":"I","s":"W1","x":2.62,"y":0.00878},{"p":"I","s":"W1","x":2.97,"y":0.00875},
{"p":"I","s":"W2","x":-2.97,"y":0.00838},{"p":"I","s":"W2","x":-2.62,"y":0.00842},{"p":"I","s":"W2","x":-2.27,"y":0.00846},{"p":"I","s":"W2","x":-1.92,"y":0.0084},{"p":"I","s":"W2","x":-1.57,"y":0.00843},{"p":"I","s":"W2","x":-1.22,"y":0.00841},{"p":"I","s":"W2","x":-0.87,"y":0.00845},{"p":"I","s":"W2","x":-0.52,"y":0.00842},{"p":"I","s":"W2","x":-0.17,"y":0.00839},{"p":"I","s":"W2","x":0.17,"y":0.00844},{"p":"I","s":"W2","x":0.52,"y":0.00841},{"p":"I","s":"W2","x":0.87,"y":0.00843},{"p":"I","s":"W2","x":1.22,"y":0.0084},{"p":"I","s":"W2","x":1.57,"y":0.00845},{"p":"I","s":"W2","x":1.92,"y":0.00842},{"p":"I","s":"W2","x":2.27,"y":0.00844},{"p":"I","s":"W2","x":2.62,"y":0.0084},{"p":"I","s":"W2","x":2.97,"y":0.00842},
{"p":"I","s":"Z1","x":-2.97,"y":0.00926},{"p":"I","s":"Z1","x":-2.62,"y":0.00938},{"p":"I","s":"Z1","x":-2.27,"y":0.00934},{"p":"I","s":"Z1","x":-1.92,"y":0.00922},{"p":"I","s":"Z1","x":-1.57,"y":0.00932},{"p":"I","s":"Z1","x":-1.22,"y":0.00936},{"p":"I","s":"Z1","x":-0.87,"y":0.00932},{"p":"I","s":"Z1","x":-0.52,"y":0.0093},{"p":"I","s":"Z1","x":-0.17,"y":0.00944},{"p":"I","s":"Z1","x":0.17,"y":0.00934},{"p":"I","s":"Z1","x":0.52,"y":0.00932},{"p":"I","s":"Z1","x":0.87,"y":0.00926},{"p":"I","s":"Z1","x":1.22,"y":0.0093},{"p":"I","s":"Z1","x":1.57,"y":0.00936},{"p":"I","s":"Z1","x":1.92,"y":0.00928},{"p":"I","s":"Z1","x":2.27,"y":0.00932},{"p":"I","s":"Z1","x":2.62,"y":0.00938},{"p":"I","s":"Z1","x":2.97,"y":0.00932},
{"p":"I","s":"Z2","x":-2.97,"y":0.009},{"p":"I","s":"Z2","x":-2.62,"y":0.00905},{"p":"I","s":"Z2","x":-2.27,"y":0.00898},{"p":"I","s":"Z2","x":-1.92,"y":0.00903},{"p":"I","s":"Z2","x":-1.57,"y":0.00897},{"p":"I","s":"Z2","x":-1.22,"y":0.00906},{"p":"I","s":"Z2","x":-0.87,"y":0.009},{"p":"I","s":"Z2","x":-0.52,"y":0.00899},{"p":"I","s":"Z2","x":-0.17,"y":0.00904},{"p":"I","s":"Z2","x":0.17,"y":0.00902},{"p":"I","s":"Z2","x":0.52,"y":0.00898},{"p":"I","s":"Z2","x":0.87,"y":0.00905},{"p":"I","s":"Z2","x":1.22,"y":0.009},{"p":"I","s":"Z2","x":1.57,"y":0.00897},{"p":"I","s":"Z2","x":1.92,"y":0.00903},{"p":"I","s":"Z2","x":2.27,"y":0.00899},{"p":"I","s":"Z2","x":2.62,"y":0.00906},{"p":"I","s":"Z2","x":2.97,"y":0.009},
{"p":"I","s":"H1","x":-2.77,"y":0.01061},{"p":"I","s":"H1","x":-1.99,"y":0.01061},{"p":"I","s":"H1","x":-1.21,"y":0.01073},{"p":"I","s":"H1","x":-0.43,"y":0.01061},{"p":"I","s":"H1","x":0.38,"y":0.01067},{"p":"I","s":"H1","x":1.19,"y":0.01073},{"p":"I","s":"H1","x":1.96,"y":0.01061},{"p":"I","s":"H1","x":2.74,"y":0.01053},
{"p":"I","s":"H2","x":-2.89,"y":0.00975},{"p":"I","s":"H2","x":-2.34,"y":0.00964},{"p":"I","s":"H2","x":-1.82,"y":0.0097},{"p":"I","s":"H2","x":-1.3,"y":0.00985},{"p":"I","s":"H2","x":-0.52,"y":0.0097},{"p":"I","s":"H2","x":0.51,"y":0.0097},{"p":"I","s":"H2","x":1.29,"y":0.0097},{"p":"I","s":"H2","x":1.81,"y":0.00964},{"p":"I","s":"H2","x":2.33,"y":0.00975},{"p":"I","s":"H2","x":2.87,"y":0.0096},
{"p":"J","s":"W1","x":-2.97,"y":0.01208},{"p":"J","s":"W1","x":-2.62,"y":0.01215},{"p":"J","s":"W1","x":-2.27,"y":0.01212},{"p":"J","s":"W1","x":-1.92,"y":0.01218},{"p":"J","s":"W1","x":-1.57,"y":0.01214},{"p":"J","s":"W1","x":-1.22,"y":0.01216},{"p":"J","s":"W1","x":-0.87,"y":0.01213},{"p":"J","s":"W1","x":-0.52,"y":0.0122},{"p":"J","s":"W1","x":-0.17,"y":0.01215},{"p":"J","s":"W1","x":0.17,"y":0.01222},{"p":"J","s":"W1","x":0.52,"y":0.01218},{"p":"J","s":"W1","x":0.87,"y":0.01215},{"p":"J","s":"W1","x":1.22,"y":0.01219},{"p":"J","s":"W1","x":1.57,"y":0.01213},{"p":"J","s":"W1","x":1.92,"y":0.01216},{"p":"J","s":"W1","x":2.27,"y":0.0122},{"p":"J","s":"W1","x":2.62,"y":0.01214},{"p":"J","s":"W1","x":2.97,"y":0.0121},
{"p":"J","s":"W2","x":-2.97,"y":0.0115},{"p":"J","s":"W2","x":-2.62,"y":0.01162},{"p":"J","s":"W2","x":-2.27,"y":0.01164},{"p":"J","s":"W2","x":-1.92,"y":0.01166},{"p":"J","s":"W2","x":-1.57,"y":0.01162},{"p":"J","s":"W2","x":-1.22,"y":0.01165},{"p":"J","s":"W2","x":-0.87,"y":0.01163},{"p":"J","s":"W2","x":-0.52,"y":0.01166},{"p":"J","s":"W2","x":-0.17,"y":0.01164},{"p":"J","s":"W2","x":0.17,"y":0.01167},{"p":"J","s":"W2","x":0.52,"y":0.01163},{"p":"J","s":"W2","x":0.87,"y":0.01165},{"p":"J","s":"W2","x":1.22,"y":0.01162},{"p":"J","s":"W2","x":1.57,"y":0.01166},{"p":"J","s":"W2","x":1.92,"y":0.01163},{"p":"J","s":"W2","x":2.27,"y":0.01164},{"p":"J","s":"W2","x":2.62,"y":0.01162},{"p":"J","s":"W2","x":2.97,"y":0.0115},
{"p":"J","s":"Z1","x":-2.97,"y":0.01215},{"p":"J","s":"Z1","x":-2.62,"y":0.01218},{"p":"J","s":"Z1","x":-2.27,"y":0.01212},{"p":"J","s":"Z1","x":-1.92,"y":0.0122},{"p":"J","s":"Z1","x":-1.57,"y":0.01214},{"p":"J","s":"Z1","x":-1.22,"y":0.01222},{"p":"J","s":"Z1","x":-0.87,"y":0.01219},{"p":"J","s":"Z1","x":-0.52,"y":0.01228},{"p":"J","s":"Z1","x":-0.17,"y":0.01222},{"p":"J","s":"Z1","x":0.17,"y":0.01225},{"p":"J","s":"Z1","x":0.52,"y":0.01216},{"p":"J","s":"Z1","x":0.87,"y":0.01212},{"p":"J","s":"Z1","x":1.22,"y":0.01222},{"p":"J","s":"Z1","x":1.57,"y":0.01213},{"p":"J","s":"Z1","x":1.92,"y":0.01219},{"p":"J","s":"Z1","x":2.27,"y":0.01223},{"p":"J","s":"Z1","x":2.62,"y":0.01218},{"p":"J","s":"Z1","x":2.97,"y":0.01205},
{"p":"J","s":"Z2","x":-2.97,"y":0.01189},{"p":"J","s":"Z2","x":-2.62,"y":0.01205},{"p":"J","s":"Z2","x":-2.27,"y":0.0121},{"p":"J","s":"Z2","x":-1.92,"y":0.01212},{"p":"J","s":"Z2","x":-1.57,"y":0.01208},{"p":"J","s":"Z2","x":-1.22,"y":0.0121},{"p":"J","s":"Z2","x":-0.87,"y":0.01206},{"p":"J","s":"Z2","x":-0.52,"y":0.01212},{"p":"J","s":"Z2","x":-0.17,"y":0.01209},{"p":"J","s":"Z2","x":0.17,"y":0.01206},{"p":"J","s":"Z2","x":0.52,"y":0.01208},{"p":"J","s":"Z2","x":0.87,"y":0.01211},{"p":"J","s":"Z2","x":1.22,"y":0.01207},{"p":"J","s":"Z2","x":1.57,"y":0.0121},{"p":"J","s":"Z2","x":1.92,"y":0.01209},{"p":"J","s":"Z2","x":2.27,"y":0.01212},{"p":"J","s":"Z2","x":2.62,"y":0.01205},{"p":"J","s":"Z2","x":2.97,"y":0.01189},
{"p":"J","s":"H1","x":-2.81,"y":0.01281},{"p":"J","s":"H1","x":-1.96,"y":0.01287},{"p":"J","s":"H1","x":-1.21,"y":0.01306},{"p":"J","s":"H1","x":-0.44,"y":0.01275},{"p":"J","s":"H1","x":0.38,"y":0.01287},{"p":"J","s":"H1","x":1.16,"y":0.01306},{"p":"J","s":"H1","x":1.96,"y":0.01294},{"p":"J","s":"H1","x":2.74,"y":0.013},
{"p":"J","s":"H2","x":-2.91,"y":0.01294},{"p":"J","s":"H2","x":-2.38,"y":0.0129},{"p":"J","s":"H2","x":-1.83,"y":0.01275},{"p":"J","s":"H2","x":-1.31,"y":0.01281},{"p":"J","s":"H2","x":-0.6,"y":0.01271},{"p":"J","s":"H2","x":0.47,"y":0.01271},{"p":"J","s":"H2","x":1.25,"y":0.01275},{"p":"J","s":"H2","x":1.81,"y":0.01287},{"p":"J","s":"H2","x":2.32,"y":0.01275},{"p":"J","s":"H2","x":2.84,"y":0.01281},
{"p":"K","s":"W1","x":10,"y":0.01442},{"p":"K","s":"W1","x":22.2,"y":0.01261},{"p":"K","s":"W1","x":27.2,"y":0.01145},{"p":"K","s":"W1","x":32.2,"y":0.01061},{"p":"K","s":"W1","x":36.6,"y":0.00999},{"p":"K","s":"W1","x":41,"y":0.0096},{"p":"K","s":"W1","x":45.6,"y":0.0094},{"p":"K","s":"W1","x":49.6,"y":0.00905},{"p":"K","s":"W1","x":54.2,"y":0.00882},{"p":"K","s":"W1","x":58.2,"y":0.00866},{"p":"K","s":"W1","x":62.6,"y":0.00849},{"p":"K","s":"W1","x":66.6,"y":0.00837},{"p":"K","s":"W1","x":71,"y":0.00824},{"p":"K","s":"W1","x":75.2,"y":0.00814},{"p":"K","s":"W1","x":79.2,"y":0.00804},{"p":"K","s":"W1","x":83.6,"y":0.00791},{"p":"K","s":"W1","x":88.2,"y":0.00779},{"p":"K","s":"W1","x":92.6,"y":0.00775},{"p":"K","s":"W1","x":98.2,"y":0.00765},{"p":"K","s":"W1","x":102.2,"y":0.00765},
{"p":"K","s":"W2","x":16.6,"y":0.0111},{"p":"K","s":"W2","x":22.2,"y":0.01057},{"p":"K","s":"W2","x":26.6,"y":0.01012},{"p":"K","s":"W2","x":30.6,"y":0.00973},{"p":"K","s":"W2","x":34.6,"y":0.0094},{"p":"K","s":"W2","x":38.6,"y":0.00921},{"p":"K","s":"W2","x":42.2,"y":0.00901},{"p":"K","s":"W2","x":46.2,"y":0.00882},{"p":"K","s":"W2","x":50.2,"y":0.00868},{"p":"K","s":"W2","x":54.2,"y":0.00853},{"p":"K","s":"W2","x":58.2,"y":0.00837},{"p":"K","s":"W2","x":62.2,"y":0.00824},{"p":"K","s":"W2","x":66.2,"y":0.00814},{"p":"K","s":"W2","x":70.6,"y":0.00804},{"p":"K","s":"W2","x":74.6,"y":0.00794},{"p":"K","s":"W2","x":79,"y":0.00785},{"p":"K","s":"W2","x":83.6,"y":0.00775},{"p":"K","s":"W2","x":88.2,"y":0.00765},{"p":"K","s":"W2","x":93,"y":0.00756},{"p":"K","s":"W2","x":99.6,"y":0.00736},
{"p":"K","s":"Z1","x":21,"y":0.01343},{"p":"K","s":"Z1","x":26.6,"y":0.01277},{"p":"K","s":"Z1","x":30.6,"y":0.01174},{"p":"K","s":"Z1","x":34.6,"y":0.01129},{"p":"K","s":"Z1","x":38.6,"y":0.01071},{"p":"K","s":"Z1","x":42.6,"y":0.01028},{"p":"K","s":"Z1","x":46.6,"y":0.00985},{"p":"K","s":"Z1","x":50.6,"y":0.00956},{"p":"K","s":"Z1","x":54.6,"y":0.0094},{"p":"K","s":"Z1","x":59,"y":0.00917},{"p":"K","s":"Z1","x":63.2,"y":0.00896},{"p":"K","s":"Z1","x":67.6,"y":0.00876},{"p":"K","s":"Z1","x":72,"y":0.00866},{"p":"K","s":"Z1","x":76.2,"y":0.00849},{"p":"K","s":"Z1","x":80.6,"y":0.00839},{"p":"K","s":"Z1","x":85,"y":0.00833},{"p":"K","s":"Z1","x":89.6,"y":0.0082},{"p":"K","s":"Z1","x":96.2,"y":0.00833},
{"p":"K","s":"Z2","x":19.6,"y":0.01106},{"p":"K","s":"Z2","x":25.6,"y":0.01106},{"p":"K","s":"Z2","x":29.6,"y":0.0109},{"p":"K","s":"Z2","x":33,"y":0.01047},{"p":"K","s":"Z2","x":37,"y":0.01018},{"p":"K","s":"Z2","x":41,"y":0.00999},{"p":"K","s":"Z2","x":45,"y":0.00973},{"p":"K","s":"Z2","x":49.6,"y":0.00946},{"p":"K","s":"Z2","x":54.2,"y":0.00927},{"p":"K","s":"Z2","x":58.6,"y":0.00907},{"p":"K","s":"Z2","x":63,"y":0.00888},{"p":"K","s":"Z2","x":67.6,"y":0.00876},{"p":"K","s":"Z2","x":72.2,"y":0.00863},{"p":"K","s":"Z2","x":76.6,"y":0.00849},{"p":"K","s":"Z2","x":81,"y":0.00837},{"p":"K","s":"Z2","x":86.2,"y":0.00824},{"p":"K","s":"Z2","x":91,"y":0.00814},{"p":"K","s":"Z2","x":97,"y":0.00804},
{"p":"K","s":"H1","x":41,"y":0.01242},{"p":"K","s":"H1","x":51,"y":0.01145},{"p":"K","s":"H1","x":57.6,"y":0.01106},{"p":"K","s":"H1","x":64.2,"y":0.01071},{"p":"K","s":"H1","x":70.6,"y":0.01005},{"p":"K","s":"H1","x":77,"y":0.00985},{"p":"K","s":"H1","x":84,"y":0.00979},{"p":"K","s":"H1","x":93,"y":0.00975},
{"p":"K","s":"H2","x":28,"y":0.01174},{"p":"K","s":"H2","x":37,"y":0.01096},{"p":"K","s":"H2","x":43,"y":0.01041},{"p":"K","s":"H2","x":48.6,"y":0.01022},{"p":"K","s":"H2","x":53.6,"y":0.00993},{"p":"K","s":"H2","x":58.2,"y":0.00975},{"p":"K","s":"H2","x":62.2,"y":0.0095},{"p":"K","s":"H2","x":66.6,"y":0.00927},{"p":"K","s":"H2","x":71.6,"y":0.00907},{"p":"K","s":"H2","x":76.6,"y":0.00898},{"p":"K","s":"H2","x":87,"y":0.00878},
{"p":"L","s":"W1","x":9.4,"y":0.01935},{"p":"L","s":"W1","x":22.4,"y":0.01647},{"p":"L","s":"W1","x":27,"y":0.01487},{"p":"L","s":"W1","x":31.4,"y":0.01404},{"p":"L","s":"W1","x":36,"y":0.0133},{"p":"L","s":"W1","x":40.6,"y":0.01274},{"p":"L","s":"W1","x":45,"y":0.01236},{"p":"L","s":"W1","x":49.4,"y":0.01199},{"p":"L","s":"W1","x":54,"y":0.01173},{"p":"L","s":"W1","x":58.6,"y":0.0115},{"p":"L","s":"W1","x":63,"y":0.01135},{"p":"L","s":"W1","x":67.4,"y":0.01124},{"p":"L","s":"W1","x":72,"y":0.01113},{"p":"L","s":"W1","x":76.6,"y":0.01098},{"p":"L","s":"W1","x":81,"y":0.01087},{"p":"L","s":"W1","x":85.4,"y":0.01075},{"p":"L","s":"W1","x":90,"y":0.01075},{"p":"L","s":"W1","x":94.6,"y":0.01075},{"p":"L","s":"W1","x":98.6,"y":0.01068},{"p":"L","s":"W1","x":102.6,"y":0.01087},
{"p":"L","s":"W2","x":17,"y":0.01554},{"p":"L","s":"W2","x":22,"y":0.01472},{"p":"L","s":"W2","x":26.4,"y":0.01386},{"p":"L","s":"W2","x":30.6,"y":0.01337},{"p":"L","s":"W2","x":34.6,"y":0.01285},{"p":"L","s":"W2","x":38.6,"y":0.01247},{"p":"L","s":"W2","x":42.6,"y":0.0121},{"p":"L","s":"W2","x":46.6,"y":0.0118},{"p":"L","s":"W2","x":50.6,"y":0.01158},{"p":"L","s":"W2","x":54.6,"y":0.01135},{"p":"L","s":"W2","x":58.6,"y":0.01117},{"p":"L","s":"W2","x":62.6,"y":0.01098},{"p":"L","s":"W2","x":67,"y":0.01087},{"p":"L","s":"W2","x":71.4,"y":0.01075},{"p":"L","s":"W2","x":76,"y":0.01068},{"p":"L","s":"W2","x":80.6,"y":0.01061},{"p":"L","s":"W2","x":85.4,"y":0.01049},{"p":"L","s":"W2","x":90.6,"y":0.01049},{"p":"L","s":"W2","x":95.4,"y":0.01049},{"p":"L","s":"W2","x":100,"y":0.01031},
{"p":"L","s":"Z1","x":21,"y":0.01786},{"p":"L","s":"Z1","x":26.6,"y":0.01599},{"p":"L","s":"Z1","x":30.6,"y":0.01479},{"p":"L","s":"Z1","x":34.6,"y":0.01434},{"p":"L","s":"Z1","x":38.6,"y":0.01367},{"p":"L","s":"Z1","x":42.6,"y":0.01311},{"p":"L","s":"Z1","x":47,"y":0.01274},{"p":"L","s":"Z1","x":51,"y":0.01247},{"p":"L","s":"Z1","x":55,"y":0.01217},{"p":"L","s":"Z1","x":59,"y":0.01199},{"p":"L","s":"Z1","x":63.4,"y":0.01173},{"p":"L","s":"Z1","x":67.4,"y":0.0115},{"p":"L","s":"Z1","x":72,"y":0.01132},{"p":"L","s":"Z1","x":76.6,"y":0.01124},{"p":"L","s":"Z1","x":81,"y":0.01113},{"p":"L","s":"Z1","x":86,"y":0.01105},{"p":"L","s":"Z1","x":91,"y":0.01105},{"p":"L","s":"Z1","x":96,"y":0.01105},
{"p":"L","s":"Z2","x":19.6,"y":0.01561},{"p":"L","s":"Z2","x":25.4,"y":0.01535},{"p":"L","s":"Z2","x":29.4,"y":0.01442},{"p":"L","s":"Z2","x":33.4,"y":0.01386},{"p":"L","s":"Z2","x":38,"y":0.0133},{"p":"L","s":"Z2","x":42.6,"y":0.013},{"p":"L","s":"Z2","x":47,"y":0.01262},{"p":"L","s":"Z2","x":51.4,"y":0.01229},{"p":"L","s":"Z2","x":56,"y":0.01199},{"p":"L","s":"Z2","x":60.6,"y":0.0118},{"p":"L","s":"Z2","x":65.4,"y":0.01158},{"p":"L","s":"Z2","x":70.6,"y":0.01143},{"p":"L","s":"Z2","x":75.4,"y":0.01124},{"p":"L","s":"Z2","x":80,"y":0.01117},{"p":"L","s":"Z2","x":85.4,"y":0.01098},{"p":"L","s":"Z2","x":91,"y":0.01098},{"p":"L","s":"Z2","x":96,"y":0.01098},
{"p":"L","s":"H1","x":40.6,"y":0.01516},{"p":"L","s":"H1","x":50.6,"y":0.01434},{"p":"L","s":"H1","x":57,"y":0.01356},{"p":"L","s":"H1","x":63.4,"y":0.013},{"p":"L","s":"H1","x":70,"y":0.01236},{"p":"L","s":"H1","x":76.6,"y":0.01188},{"p":"L","s":"H1","x":83.4,"y":0.01143},{"p":"L","s":"H1","x":92.6,"y":0.0115},
{"p":"L","s":"H2","x":28,"y":0.01561},{"p":"L","s":"H2","x":37,"y":0.0146},{"p":"L","s":"H2","x":43,"y":0.01404},{"p":"L","s":"H2","x":48.6,"y":0.0133},{"p":"L","s":"H2","x":52.6,"y":0.01322},{"p":"L","s":"H2","x":57.4,"y":0.01285},{"p":"L","s":"H2","x":62,"y":0.01236},{"p":"L","s":"H2","x":67,"y":0.01229},{"p":"L","s":"H2","x":72,"y":0.0118},{"p":"L","s":"H2","x":77.4,"y":0.0115},{"p":"L","s":"H2","x":86.6,"y":0.01143},
{"p":"M","s":"e","x":14.8,"y":0.0634},{"p":"M","s":"e","x":18.7,"y":0.0593},{"p":"M","s":"e","x":21.9,"y":0.0553},{"p":"M","s":"e","x":25,"y":0.0524},{"p":"M","s":"e","x":27.7,"y":0.0496},{"p":"M","s":"e","x":30.7,"y":0.0474},{"p":"M","s":"e","x":33.6,"y":0.0459},{"p":"M","s":"e","x":36.4,"y":0.045},{"p":"M","s":"e","x":39.6,"y":0.0436},{"p":"M","s":"e","x":43.5,"y":0.0426},{"p":"M","s":"e","x":46,"y":0.0421},{"p":"M","s":"e","x":49.8,"y":0.0407},{"p":"M","s":"e","x":53.3,"y":0.0407},{"p":"M","s":"e","x":58.4,"y":0.0393},{"p":"M","s":"e","x":63.1,"y":0.0385},{"p":"M","s":"e","x":69.5,"y":0.0373},{"p":"M","s":"e","x":76.7,"y":0.0354},{"p":"M","s":"e","x":87.4,"y":0.0345},
{"p":"M","s":"g","x":27.2,"y":0.1776},{"p":"M","s":"g","x":39.4,"y":0.1536},{"p":"M","s":"g","x":57.6,"y":0.1289},{"p":"M","s":"g","x":77.5,"y":0.1086},{"p":"M","s":"g","x":109.4,"y":0.09},{"p":"M","s":"g","x":130.6,"y":0.0823},{"p":"M","s":"g","x":166,"y":0.0742},{"p":"M","s":"g","x":198,"y":0.0689},{"p":"M","s":"g","x":258,"y":0.0637},{"p":"M","s":"g","x":317,"y":0.057},{"p":"M","s":"g","x":434,"y":0.0522},{"p":"M","s":"g","x":642,"y":0.0502},{"p":"M","s":"g","x":894,"y":0.0479},
{"p":"M","s":"u","x":28.8,"y":0.1708},{"p":"M","s":"u","x":43.5,"y":0.145},{"p":"M","s":"u","x":62.1,"y":0.1211},{"p":"M","s":"u","x":83,"y":0.1082},{"p":"M","s":"u","x":112.8,"y":0.0909},{"p":"M","s":"u","x":136,"y":0.0833},{"p":"M","s":"u","x":171,"y":0.0766},{"p":"M","s":"u","x":203,"y":0.072},{"p":"M","s":"u","x":260,"y":0.068},{"p":"M","s":"u","x":319,"y":0.0632},{"p":"M","s":"u","x":436,"y":0.0593},{"p":"M","s":"u","x":649,"y":0.0555},{"p":"M","s":"u","x":894,"y":0.0545},
{"p":"M","s":"c","x":28.3,"y":0.1699},{"p":"M","s":"c","x":41.2,"y":0.1479},{"p":"M","s":"c","x":60,"y":0.1216},{"p":"M","s":"c","x":79.8,"y":0.1058},{"p":"M","s":"c","x":109,"y":0.0898},{"p":"M","s":"c","x":127,"y":0.0823},{"p":"M","s":"c","x":163,"y":0.0766},{"p":"M","s":"c","x":194,"y":0.0713},{"p":"M","s":"c","x":251,"y":0.066},{"p":"M","s":"c","x":308,"y":0.0611},{"p":"M","s":"c","x":434,"y":0.057},{"p":"M","s":"c","x":627,"y":0.0517},{"p":"M","s":"c","x":881,"y":0.0498}
]},
"hconcat": [
 {"hconcat": [
  {"concat": [
   {"width":212,"height":222.7,"title":{"text":"(a)","orient":"bottom","offset":24},"resolve":{"axis":{"x":"independent","y":"independent"}},
    "layer":[
     {"transform":[{"filter":"datum.p=='A'"}],"mark":{"type":"point","filled":true,"size":38,"strokeWidth":1.1,"opacity":1},
      "encoding":{
       "x":{"field":"x","type":"quantitative","scale":{"domain":[-1.14,1.14],"nice":false,"zero":false},"axis":{"values":[-1.1,-1,-0.9,-0.8,-0.7,-0.6,-0.5,-0.4,-0.3,-0.2,-0.1,0,0.1,0.2,0.3,0.4,0.5,0.6,0.7,0.8,0.9,1,1.1],"format":"~g","labelExpr":"indexof([-1,-0.5,0,0.5,1],datum.value)>=0?datum.label:''","tickSize":{"condition":{"test":"indexof([-1,-0.5,0,0.5,1],datum.value)>=0","value":-7},"value":-3.5},"labelPadding":11,"title":"cosθGen","titlePadding":5}},
       "y":{"field":"y","type":"quantitative","scale":{"domain":[0.03,0.085],"nice":false,"zero":false},"axis":{"values":[0.03,0.032,0.034,0.036,0.038,0.04,0.042,0.044,0.046,0.048,0.05,0.052,0.054,0.056,0.058,0.06,0.062,0.064,0.066,0.068,0.07,0.072,0.074,0.076,0.078,0.08,0.082,0.084],"format":"~g","labelExpr":"indexof([0.03,0.04,0.05,0.06,0.07,0.08],datum.value)>=0?datum.label:''","tickSize":{"condition":{"test":"indexof([0.03,0.04,0.05,0.06,0.07,0.08],datum.value)>=0","value":-7},"value":-3.5},"labelPadding":10.5,"title":"Jet Energy Resolution","titlePadding":10}},
       "shape":{"field":"s","type":"nominal","scale":{"domain":["W1","Z1","H1","W2","Z2","H2"],"range":["triangle-up","circle","square","triangle-up","circle","square"]},"legend":{"title":null,"labelExpr":"datum.value=='W1'?'WW→μνqq\u0304':datum.value=='W2'?'WW→qq\u0304qq\u0304':datum.value=='Z1'?'ZZ →νν\u0304qq\u0304':datum.value=='Z2'?'ZZ →qq\u0304qq\u0304':datum.value=='H1'?'ZH →ννqq\u0304':'ZH →qq\u0304qq\u0304'"}},
       "stroke":{"field":"s","type":"nominal","scale":{"domain":["W1","Z1","H1","W2","Z2","H2"],"range":["#2277ee","#e9464e","#4fc292","#3f8ff2","#ea5058","#4fc292"]},"legend":{"title":null,"labelExpr":"datum.value=='W1'?'WW→μνqq\u0304':datum.value=='W2'?'WW→qq\u0304qq\u0304':datum.value=='Z1'?'ZZ →νν\u0304qq\u0304':datum.value=='Z2'?'ZZ →qq\u0304qq\u0304':datum.value=='H1'?'ZH →ννqq\u0304':'ZH →qq\u0304qq\u0304'"}},
       "fill":{"field":"s","type":"nominal","scale":{"domain":["W1","Z1","H1","W2","Z2","H2"],"range":["#2277ee","#e9464e","#4fc292","transparent","transparent","transparent"]},"legend":{"title":null,"labelExpr":"datum.value=='W1'?'WW→μνqq\u0304':datum.value=='W2'?'WW→qq\u0304qq\u0304':datum.value=='Z1'?'ZZ →νν\u0304qq\u0304':datum.value=='Z2'?'ZZ →qq\u0304qq\u0304':datum.value=='H1'?'ZH →ννqq\u0304':'ZH →qq\u0304qq\u0304'"}}
      }},
     {"data":{"values":[{}]},"mark":{"type":"text","text":"CEPC","fontSize":12.5,"fontWeight":"bold","fontStyle":"italic","align":"left","baseline":"middle"},
      "encoding":{"x":{"datum":-1.015,"type":"quantitative","axis":{"orient":"top","values":[-1.1,-1,-0.9,-0.8,-0.7,-0.6,-0.5,-0.4,-0.3,-0.2,-0.1,0,0.1,0.2,0.3,0.4,0.5,0.6,0.7,0.8,0.9,1,1.1],"labels":false,"title":null,"tickSize":{"condition":{"test":"indexof([-1,-0.5,0,0.5,1],datum.value)>=0","value":-7},"value":-3.5}}},
                  "y":{"datum":0.0809,"type":"quantitative","axis":{"orient":"right","values":[0.03,0.032,0.034,0.036,0.038,0.04,0.042,0.044,0.046,0.048,0.05,0.052,0.054,0.056,0.058,0.06,0.062,0.064,0.066,0.068,0.07,0.072,0.074,0.076,0.078,0.08,0.082,0.084],"labels":false,"title":null,"tickSize":{"condition":{"test":"indexof([0.03,0.04,0.05,0.06,0.07,0.08],datum.value)>=0","value":-7},"value":-3.5}}}}},
     {"data":{"values":[{}]},"mark":{"type":"text","text":"(240 GeV)","fontSize":9,"align":"right","baseline":"bottom","dy":-2},
      "encoding":{"x":{"datum":1.14,"type":"quantitative","axis":null},"y":{"datum":0.085,"type":"quantitative","axis":null}}}
    ]},
   {"width":212,"height":222.7,"title":{"text":"(b)","orient":"bottom","offset":24},"resolve":{"axis":{"x":"independent","y":"independent"}},
    "layer":[
     {"transform":[{"filter":"datum.p=='B'"}],"mark":{"type":"point","filled":true,"size":38,"strokeWidth":1.1,"opacity":1},
      "encoding":{
       "x":{"field":"x","type":"quantitative","scale":{"domain":[-1.14,1.14],"nice":false,"zero":false},"axis":{"values":[-1.1,-1,-0.9,-0.8,-0.7,-0.6,-0.5,-0.4,-0.3,-0.2,-0.1,0,0.1,0.2,0.3,0.4,0.5,0.6,0.7,0.8,0.9,1,1.1],"format":"~g","labelExpr":"indexof([-1,-0.5,0,0.5,1],datum.value)>=0?datum.label:''","tickSize":{"condition":{"test":"indexof([-1,-0.5,0,0.5,1],datum.value)>=0","value":-7},"value":-3.5},"labelPadding":11,"title":"cosθGen","titlePadding":5}},
       "y":{"field":"y","type":"quantitative","scale":{"domain":[-0.05,0.05],"nice":false,"zero":false},"axis":{"values":[-0.048,-0.044,-0.04,-0.036,-0.032,-0.028,-0.024,-0.02,-0.016,-0.012,-0.008,-0.004,0,0.004,0.008,0.012,0.016,0.02,0.024,0.028,0.032,0.036,0.04,0.044,0.048],"format":"~g","labelExpr":"indexof([-0.04,-0.02,0,0.02,0.04],datum.value)>=0?datum.label:''","tickSize":{"condition":{"test":"indexof([-0.04,-0.02,0,0.02,0.04],datum.value)>=0","value":-7},"value":-3.5},"labelPadding":10.5,"title":"Jet Energy Scale","titlePadding":10}},
       "shape":{"field":"s","type":"nominal","scale":{"domain":["W1","Z1","H1","W2","Z2","H2"],"range":["triangle-up","circle","square","triangle-up","circle","square"]},"legend":{"title":null,"labelExpr":"datum.value=='W1'?'WW→μνqq\u0304':datum.value=='W2'?'WW→qq\u0304qq\u0304':datum.value=='Z1'?'ZZ →νν\u0304qq\u0304':datum.value=='Z2'?'ZZ →qq\u0304qq\u0304':datum.value=='H1'?'ZH →ννqq\u0304':'ZH →qq\u0304qq\u0304'"}},
       "stroke":{"field":"s","type":"nominal","scale":{"domain":["W1","Z1","H1","W2","Z2","H2"],"range":["#4a5ad8","#f5781e","#18b0aa","#5b6be0","#f5781e","#18b0aa"]},"legend":{"title":null,"labelExpr":"datum.value=='W1'?'WW→μνqq\u0304':datum.value=='W2'?'WW→qq\u0304qq\u0304':datum.value=='Z1'?'ZZ →νν\u0304qq\u0304':datum.value=='Z2'?'ZZ →qq\u0304qq\u0304':datum.value=='H1'?'ZH →ννqq\u0304':'ZH →qq\u0304qq\u0304'"}},
       "fill":{"field":"s","type":"nominal","scale":{"domain":["W1","Z1","H1","W2","Z2","H2"],"range":["#4a5ad8","#f5781e","#18b0aa","transparent","transparent","transparent"]},"legend":{"title":null,"labelExpr":"datum.value=='W1'?'WW→μνqq\u0304':datum.value=='W2'?'WW→qq\u0304qq\u0304':datum.value=='Z1'?'ZZ →νν\u0304qq\u0304':datum.value=='Z2'?'ZZ →qq\u0304qq\u0304':datum.value=='H1'?'ZH →ννqq\u0304':'ZH →qq\u0304qq\u0304'"}}
      }},
     {"data":{"values":[{}]},"mark":{"type":"text","text":"CEPC","fontSize":12.5,"fontWeight":"bold","fontStyle":"italic","align":"left","baseline":"middle"},
      "encoding":{"x":{"datum":-1.015,"type":"quantitative","axis":{"orient":"top","values":[-1.1,-1,-0.9,-0.8,-0.7,-0.6,-0.5,-0.4,-0.3,-0.2,-0.1,0,0.1,0.2,0.3,0.4,0.5,0.6,0.7,0.8,0.9,1,1.1],"labels":false,"title":null,"tickSize":{"condition":{"test":"indexof([-1,-0.5,0,0.5,1],datum.value)>=0","value":-7},"value":-3.5}}},
                  "y":{"datum":0.0425,"type":"quantitative","axis":{"orient":"right","values":[-0.048,-0.044,-0.04,-0.036,-0.032,-0.028,-0.024,-0.02,-0.016,-0.012,-0.008,-0.004,0,0.004,0.008,0.012,0.016,0.02,0.024,0.028,0.032,0.036,0.04,0.044,0.048],"labels":false,"title":null,"tickSize":{"condition":{"test":"indexof([-0.04,-0.02,0,0.02,0.04],datum.value)>=0","value":-7},"value":-3.5}}}}},
     {"data":{"values":[{}]},"mark":{"type":"text","text":"(240 GeV)","fontSize":9,"align":"right","baseline":"bottom","dy":-2},
      "encoding":{"x":{"datum":1.14,"type":"quantitative","axis":null},"y":{"datum":0.05,"type":"quantitative","axis":null}}}
    ]},
   {"width":212,"height":222.7,"title":{"text":"(c)","orient":"bottom","offset":24},"resolve":{"axis":{"x":"independent","y":"independent"}},
    "layer":[
     {"transform":[{"filter":"datum.p=='C'"}],"mark":{"type":"point","filled":true,"size":38,"strokeWidth":1.1,"opacity":1},
      "encoding":{
       "x":{"field":"x","type":"quantitative","scale":{"domain":[-3.6,3.6],"nice":false,"zero":false},"axis":{"values":[-3.4,-3.2,-3,-2.8,-2.6,-2.4,-2.2,-2,-1.8,-1.6,-1.4,-1.2,-1,-0.8,-0.6,-0.4,-0.2,0,0.2,0.4,0.6,0.8,1,1.2,1.4,1.6,1.8,2,2.2,2.4,2.6,2.8,3,3.2,3.4],"format":"~g","labelExpr":"indexof([-3,-2,-1,0,1,2,3],datum.value)>=0?datum.label:''","tickSize":{"condition":{"test":"indexof([-3,-2,-1,0,1,2,3],datum.value)>=0","value":-7},"value":-3.5},"labelPadding":11,"title":"φGen","titlePadding":5}},
       "y":{"field":"y","type":"quantitative","scale":{"domain":[0.03,0.085],"nice":false,"zero":false},"axis":{"values":[0.03,0.032,0.034,0.036,0.038,0.04,0.042,0.044,0.046,0.048,0.05,0.052,0.054,0.056,0.058,0.06,0.062,0.064,0.066,0.068,0.07,0.072,0.074,0.076,0.078,0.08,0.082,0.084],"format":"~g","labelExpr":"indexof([0.03,0.04,0.05,0.06,0.07,0.08],datum.value)>=0?datum.label:''","tickSize":{"condition":{"test":"indexof([0.03,0.04,0.05,0.06,0.07,0.08],datum.value)>=0","value":-7},"value":-3.5},"labelPadding":10.5,"title":"Jet Energy Resolution","titlePadding":10}},
       "shape":{"field":"s","type":"nominal","scale":{"domain":["W1","Z1","H1","W2","Z2","H2"],"range":["triangle-up","circle","square","triangle-up","circle","square"]},"legend":{"title":null,"labelExpr":"datum.value=='W1'?'WW→μνqq\u0304':datum.value=='W2'?'WW→qq\u0304qq\u0304':datum.value=='Z1'?'ZZ →νν\u0304qq\u0304':datum.value=='Z2'?'ZZ →qq\u0304qq\u0304':datum.value=='H1'?'ZH →ννqq\u0304':'ZH →qq\u0304qq\u0304'"}},
       "stroke":{"field":"s","type":"nominal","scale":{"domain":["W1","Z1","H1","W2","Z2","H2"],"range":["#2277ee","#e9464e","#4fc292","#3f8ff2","#ea5058","#4fc292"]},"legend":{"title":null,"labelExpr":"datum.value=='W1'?'WW→μνqq\u0304':datum.value=='W2'?'WW→qq\u0304qq\u0304':datum.value=='Z1'?'ZZ →νν\u0304qq\u0304':datum.value=='Z2'?'ZZ →qq\u0304qq\u0304':datum.value=='H1'?'ZH →ννqq\u0304':'ZH →qq\u0304qq\u0304'"}},
       "fill":{"field":"s","type":"nominal","scale":{"domain":["W1","Z1","H1","W2","Z2","H2"],"range":["#2277ee","#e9464e","#4fc292","transparent","transparent","transparent"]},"legend":{"title":null,"labelExpr":"datum.value=='W1'?'WW→μνqq\u0304':datum.value=='W2'?'WW→qq\u0304qq\u0304':datum.value=='Z1'?'ZZ →νν\u0304qq\u0304':datum.value=='Z2'?'ZZ →qq\u0304qq\u0304':datum.value=='H1'?'ZH →ννqq\u0304':'ZH →qq\u0304qq\u0304'"}}
      }},
     {"data":{"values":[{}]},"mark":{"type":"text","text":"CEPC","fontSize":12.5,"fontWeight":"bold","fontStyle":"italic","align":"left","baseline":"middle"},
      "encoding":{"x":{"datum":-3.204,"type":"quantitative","axis":{"orient":"top","values":[-3.4,-3.2,-3,-2.8,-2.6,-2.4,-2.2,-2,-1.8,-1.6,-1.4,-1.2,-1,-0.8,-0.6,-0.4,-0.2,0,0.2,0.4,0.6,0.8,1,1.2,1.4,1.6,1.8,2,2.2,2.4,2.6,2.8,3,3.2,3.4],"labels":false,"title":null,"tickSize":{"condition":{"test":"indexof([-3,-2,-1,0,1,2,3],datum.value)>=0","value":-7},"value":-3.5}}},
                  "y":{"datum":0.0809,"type":"quantitative","axis":{"orient":"right","values":[0.03,0.032,0.034,0.036,0.038,0.04,0.042,0.044,0.046,0.048,0.05,0.052,0.054,0.056,0.058,0.06,0.062,0.064,0.066,0.068,0.07,0.072,0.074,0.076,0.078,0.08,0.082,0.084],"labels":false,"title":null,"tickSize":{"condition":{"test":"indexof([0.03,0.04,0.05,0.06,0.07,0.08],datum.value)>=0","value":-7},"value":-3.5}}}}},
     {"data":{"values":[{}]},"mark":{"type":"text","text":"(240 GeV)","fontSize":9,"align":"right","baseline":"bottom","dy":-2},
      "encoding":{"x":{"datum":3.6,"type":"quantitative","axis":null},"y":{"datum":0.085,"type":"quantitative","axis":null}}}
    ]},
   {"width":212,"height":222.7,"title":{"text":"(d)","orient":"bottom","offset":24},"resolve":{"axis":{"x":"independent","y":"independent"}},
    "layer":[
     {"transform":[{"filter":"datum.p=='D'"}],"mark":{"type":"point","filled":true,"size":38,"strokeWidth":1.1,"opacity":1},
      "encoding":{
       "x":{"field":"x","type":"quantitative","scale":{"domain":[-3.6,3.6],"nice":false,"zero":false},"axis":{"values":[-3.4,-3.2,-3,-2.8,-2.6,-2.4,-2.2,-2,-1.8,-1.6,-1.4,-1.2,-1,-0.8,-0.6,-0.4,-0.2,0,0.2,0.4,0.6,0.8,1,1.2,1.4,1.6,1.8,2,2.2,2.4,2.6,2.8,3,3.2,3.4],"format":"~g","labelExpr":"indexof([-3,-2,-1,0,1,2,3],datum.value)>=0?datum.label:''","tickSize":{"condition":{"test":"indexof([-3,-2,-1,0,1,2,3],datum.value)>=0","value":-7},"value":-3.5},"labelPadding":11,"title":"φGen","titlePadding":5}},
       "y":{"field":"y","type":"quantitative","scale":{"domain":[-0.05,0.05],"nice":false,"zero":false},"axis":{"values":[-0.048,-0.044,-0.04,-0.036,-0.032,-0.028,-0.024,-0.02,-0.016,-0.012,-0.008,-0.004,0,0.004,0.008,0.012,0.016,0.02,0.024,0.028,0.032,0.036,0.04,0.044,0.048],"format":"~g","labelExpr":"indexof([-0.04,-0.02,0,0.02,0.04],datum.value)>=0?datum.label:''","tickSize":{"condition":{"test":"indexof([-0.04,-0.02,0,0.02,0.04],datum.value)>=0","value":-7},"value":-3.5},"labelPadding":10.5,"title":"Jet Energy Scale","titlePadding":10}},
       "shape":{"field":"s","type":"nominal","scale":{"domain":["W1","Z1","H1","W2","Z2","H2"],"range":["triangle-up","circle","square","triangle-up","circle","square"]},"legend":{"title":null,"labelExpr":"datum.value=='W1'?'WW→μνqq\u0304':datum.value=='W2'?'WW→qq\u0304qq\u0304':datum.value=='Z1'?'ZZ →νν\u0304qq\u0304':datum.value=='Z2'?'ZZ →qq\u0304qq\u0304':datum.value=='H1'?'ZH →ννqq\u0304':'ZH →qq\u0304qq\u0304'"}},
       "stroke":{"field":"s","type":"nominal","scale":{"domain":["W1","Z1","H1","W2","Z2","H2"],"range":["#4a5ad8","#f5781e","#18b0aa","#5b6be0","#f5781e","#18b0aa"]},"legend":{"title":null,"labelExpr":"datum.value=='W1'?'WW→μνqq\u0304':datum.value=='W2'?'WW→qq\u0304qq\u0304':datum.value=='Z1'?'ZZ →νν\u0304qq\u0304':datum.value=='Z2'?'ZZ →qq\u0304qq\u0304':datum.value=='H1'?'ZH →ννqq\u0304':'ZH →qq\u0304qq\u0304'"}},
       "fill":{"field":"s","type":"nominal","scale":{"domain":["W1","Z1","H1","W2","Z2","H2"],"range":["#4a5ad8","#f5781e","#18b0aa","transparent","transparent","transparent"]},"legend":{"title":null,"labelExpr":"datum.value=='W1'?'WW→μνqq\u0304':datum.value=='W2'?'WW→qq\u0304qq\u0304':datum.value=='Z1'?'ZZ →νν\u0304qq\u0304':datum.value=='Z2'?'ZZ →qq\u0304qq\u0304':datum.value=='H1'?'ZH →ννqq\u0304':'ZH →qq\u0304qq\u0304'"}}
      }},
     {"data":{"values":[{}]},"mark":{"type":"text","text":"CEPC","fontSize":12.5,"fontWeight":"bold","fontStyle":"italic","align":"left","baseline":"middle"},
      "encoding":{"x":{"datum":-3.204,"type":"quantitative","axis":{"orient":"top","values":[-3.4,-3.2,-3,-2.8,-2.6,-2.4,-2.2,-2,-1.8,-1.6,-1.4,-1.2,-1,-0.8,-0.6,-0.4,-0.2,0,0.2,0.4,0.6,0.8,1,1.2,1.4,1.6,1.8,2,2.2,2.4,2.6,2.8,3,3.2,3.4],"labels":false,"title":null,"tickSize":{"condition":{"test":"indexof([-3,-2,-1,0,1,2,3],datum.value)>=0","value":-7},"value":-3.5}}},
                  "y":{"datum":0.0425,"type":"quantitative","axis":{"orient":"right","values":[-0.048,-0.044,-0.04,-0.036,-0.032,-0.028,-0.024,-0.02,-0.016,-0.012,-0.008,-0.004,0,0.004,0.008,0.012,0.016,0.02,0.024,0.028,0.032,0.036,0.04,0.044,0.048],"labels":false,"title":null,"tickSize":{"condition":{"test":"indexof([-0.04,-0.02,0,0.02,0.04],datum.value)>=0","value":-7},"value":-3.5}}}}},
     {"data":{"values":[{}]},"mark":{"type":"text","text":"(240 GeV)","fontSize":9,"align":"right","baseline":"bottom","dy":-2},
      "encoding":{"x":{"datum":3.6,"type":"quantitative","axis":null},"y":{"datum":0.05,"type":"quantitative","axis":null}}}
    ]},
   {"width":212,"height":222.7,"title":{"text":"(e)","orient":"bottom","offset":24},"resolve":{"axis":{"x":"independent","y":"independent"}},
    "layer":[
     {"transform":[{"filter":"datum.p=='E'"}],"mark":{"type":"point","filled":true,"size":38,"strokeWidth":1.1,"opacity":1},
      "encoding":{
       "x":{"field":"x","type":"quantitative","scale":{"domain":[13.3,103.2],"nice":false,"zero":false},"axis":{"values":[14,16,18,20,22,24,26,28,30,32,34,36,38,40,42,44,46,48,50,52,54,56,58,60,62,64,66,68,70,72,74,76,78,80,82,84,86,88,90,92,94,96,98,100,102],"format":"~g","labelExpr":"datum.value%10==0?datum.label:''","tickSize":{"condition":{"test":"datum.value%10==0","value":-7},"value":-3.5},"labelPadding":11,"title":"EGen (GeV)","titlePadding":5}},
       "y":{"field":"y","type":"quantitative","scale":{"domain":[0.03,0.085],"nice":false,"zero":false},"axis":{"values":[0.03,0.032,0.034,0.036,0.038,0.04,0.042,0.044,0.046,0.048,0.05,0.052,0.054,0.056,0.058,0.06,0.062,0.064,0.066,0.068,0.07,0.072,0.074,0.076,0.078,0.08,0.082,0.084],"format":"~g","labelExpr":"indexof([0.03,0.04,0.05,0.06,0.07,0.08],datum.value)>=0?datum.label:''","tickSize":{"condition":{"test":"indexof([0.03,0.04,0.05,0.06,0.07,0.08],datum.value)>=0","value":-7},"value":-3.5},"labelPadding":10.5,"title":"Jet Energy Resolution","titlePadding":10}},
       "shape":{"field":"s","type":"nominal","scale":{"domain":["W1","Z1","H1","W2","Z2","H2"],"range":["triangle-up","circle","square","triangle-up","circle","square"]},"legend":{"title":null,"labelExpr":"datum.value=='W1'?'WW→μνqq\u0304':datum.value=='W2'?'WW→qq\u0304qq\u0304':datum.value=='Z1'?'ZZ →νν\u0304qq\u0304':datum.value=='Z2'?'ZZ →qq\u0304qq\u0304':datum.value=='H1'?'ZH →ννqq\u0304':'ZH →qq\u0304qq\u0304'"}},
       "stroke":{"field":"s","type":"nominal","scale":{"domain":["W1","Z1","H1","W2","Z2","H2"],"range":["#2277ee","#e9464e","#4fc292","#3f8ff2","#ea5058","#4fc292"]},"legend":{"title":null,"labelExpr":"datum.value=='W1'?'WW→μνqq\u0304':datum.value=='W2'?'WW→qq\u0304qq\u0304':datum.value=='Z1'?'ZZ →νν\u0304qq\u0304':datum.value=='Z2'?'ZZ →qq\u0304qq\u0304':datum.value=='H1'?'ZH →ννqq\u0304':'ZH →qq\u0304qq\u0304'"}},
       "fill":{"field":"s","type":"nominal","scale":{"domain":["W1","Z1","H1","W2","Z2","H2"],"range":["#2277ee","#e9464e","#4fc292","transparent","transparent","transparent"]},"legend":{"title":null,"labelExpr":"datum.value=='W1'?'WW→μνqq\u0304':datum.value=='W2'?'WW→qq\u0304qq\u0304':datum.value=='Z1'?'ZZ →νν\u0304qq\u0304':datum.value=='Z2'?'ZZ →qq\u0304qq\u0304':datum.value=='H1'?'ZH →ννqq\u0304':'ZH →qq\u0304qq\u0304'"}}
      }},
     {"data":{"values":[{}]},"mark":{"type":"text","text":"CEPC","fontSize":12.5,"fontWeight":"bold","fontStyle":"italic","align":"left","baseline":"middle"},
      "encoding":{"x":{"datum":18.24,"type":"quantitative","axis":{"orient":"top","values":[14,16,18,20,22,24,26,28,30,32,34,36,38,40,42,44,46,48,50,52,54,56,58,60,62,64,66,68,70,72,74,76,78,80,82,84,86,88,90,92,94,96,98,100,102],"labels":false,"title":null,"tickSize":{"condition":{"test":"datum.value%10==0","value":-7},"value":-3.5}}},
                  "y":{"datum":0.0809,"type":"quantitative","axis":{"orient":"right","values":[0.03,0.032,0.034,0.036,0.038,0.04,0.042,0.044,0.046,0.048,0.05,0.052,0.054,0.056,0.058,0.06,0.062,0.064,0.066,0.068,0.07,0.072,0.074,0.076,0.078,0.08,0.082,0.084],"labels":false,"title":null,"tickSize":{"condition":{"test":"indexof([0.03,0.04,0.05,0.06,0.07,0.08],datum.value)>=0","value":-7},"value":-3.5}}}}},
     {"data":{"values":[{}]},"mark":{"type":"text","text":"(240 GeV)","fontSize":9,"align":"right","baseline":"bottom","dy":-2},
      "encoding":{"x":{"datum":103.2,"type":"quantitative","axis":null},"y":{"datum":0.085,"type":"quantitative","axis":null}}}
    ]},
   {"width":212,"height":222.7,"title":{"text":"(f)","orient":"bottom","offset":24},"resolve":{"axis":{"x":"independent","y":"independent"}},
    "layer":[
     {"transform":[{"filter":"datum.p=='F'"}],"mark":{"type":"point","filled":true,"size":38,"strokeWidth":1.1,"opacity":1},
      "encoding":{
       "x":{"field":"x","type":"quantitative","scale":{"domain":[13.3,103.2],"nice":false,"zero":false},"axis":{"values":[14,16,18,20,22,24,26,28,30,32,34,36,38,40,42,44,46,48,50,52,54,56,58,60,62,64,66,68,70,72,74,76,78,80,82,84,86,88,90,92,94,96,98,100,102],"format":"~g","labelExpr":"datum.value%10==0?datum.label:''","tickSize":{"condition":{"test":"datum.value%10==0","value":-7},"value":-3.5},"labelPadding":11,"title":"EGen (GeV)","titlePadding":5}},
       "y":{"field":"y","type":"quantitative","scale":{"domain":[-0.05,0.05],"nice":false,"zero":false},"axis":{"values":[-0.048,-0.044,-0.04,-0.036,-0.032,-0.028,-0.024,-0.02,-0.016,-0.012,-0.008,-0.004,0,0.004,0.008,0.012,0.016,0.02,0.024,0.028,0.032,0.036,0.04,0.044,0.048],"format":"~g","labelExpr":"indexof([-0.04,-0.02,0,0.02,0.04],datum.value)>=0?datum.label:''","tickSize":{"condition":{"test":"indexof([-0.04,-0.02,0,0.02,0.04],datum.value)>=0","value":-7},"value":-3.5},"labelPadding":10.5,"title":"Jet Energy Scale","titlePadding":10}},
       "shape":{"field":"s","type":"nominal","scale":{"domain":["W1","Z1","H1","W2","Z2","H2"],"range":["triangle-up","circle","square","triangle-up","circle","square"]},"legend":{"title":null,"labelExpr":"datum.value=='W1'?'WW→μνqq\u0304':datum.value=='W2'?'WW→qq\u0304qq\u0304':datum.value=='Z1'?'ZZ →νν\u0304qq\u0304':datum.value=='Z2'?'ZZ →qq\u0304qq\u0304':datum.value=='H1'?'ZH →ννqq\u0304':'ZH →qq\u0304qq\u0304'"}},
       "stroke":{"field":"s","type":"nominal","scale":{"domain":["W1","Z1","H1","W2","Z2","H2"],"range":["#4a5ad8","#f5781e","#18b0aa","#5b6be0","#f5781e","#18b0aa"]},"legend":{"title":null,"labelExpr":"datum.value=='W1'?'WW→μνqq\u0304':datum.value=='W2'?'WW→qq\u0304qq\u0304':datum.value=='Z1'?'ZZ →νν\u0304qq\u0304':datum.value=='Z2'?'ZZ →qq\u0304qq\u0304':datum.value=='H1'?'ZH →ννqq\u0304':'ZH →qq\u0304qq\u0304'"}},
       "fill":{"field":"s","type":"nominal","scale":{"domain":["W1","Z1","H1","W2","Z2","H2"],"range":["#4a5ad8","#f5781e","#18b0aa","transparent","transparent","transparent"]},"legend":{"title":null,"labelExpr":"datum.value=='W1'?'WW→μνqq\u0304':datum.value=='W2'?'WW→qq\u0304qq\u0304':datum.value=='Z1'?'ZZ →νν\u0304qq\u0304':datum.value=='Z2'?'ZZ →qq\u0304qq\u0304':datum.value=='H1'?'ZH →ννqq\u0304':'ZH →qq\u0304qq\u0304'"}}
      }},
     {"data":{"values":[{}]},"mark":{"type":"text","text":"CEPC","fontSize":12.5,"fontWeight":"bold","fontStyle":"italic","align":"left","baseline":"middle"},
      "encoding":{"x":{"datum":18.24,"type":"quantitative","axis":{"orient":"top","values":[14,16,18,20,22,24,26,28,30,32,34,36,38,40,42,44,46,48,50,52,54,56,58,60,62,64,66,68,70,72,74,76,78,80,82,84,86,88,90,92,94,96,98,100,102],"labels":false,"title":null,"tickSize":{"condition":{"test":"datum.value%10==0","value":-7},"value":-3.5}}},
                  "y":{"datum":0.0425,"type":"quantitative","axis":{"orient":"right","values":[-0.048,-0.044,-0.04,-0.036,-0.032,-0.028,-0.024,-0.02,-0.016,-0.012,-0.008,-0.004,0,0.004,0.008,0.012,0.016,0.02,0.024,0.028,0.032,0.036,0.04,0.044,0.048],"labels":false,"title":null,"tickSize":{"condition":{"test":"indexof([-0.04,-0.02,0,0.02,0.04],datum.value)>=0","value":-7},"value":-3.5}}}}},
     {"data":{"values":[{}]},"mark":{"type":"text","text":"(240 GeV)","fontSize":9,"align":"right","baseline":"bottom","dy":-2},
      "encoding":{"x":{"datum":103.2,"type":"quantitative","axis":null},"y":{"datum":0.05,"type":"quantitative","axis":null}}}
    ]}
  ],
  "columns": 2, "spacing": {"row": 106.3, "column": 74}, "bounds": "flush",
  "resolve": {"scale": {"x":"independent","y":"independent","shape":"independent","stroke":"independent","fill":"independent"}}},
  {"concat": [
   {"width":212,"height":222.7,"title":{"text":"(a)","orient":"bottom","offset":24},"resolve":{"axis":{"x":"independent","y":"independent"}},
    "layer":[
     {"transform":[{"filter":"datum.p=='G'"}],"mark":{"type":"point","filled":true,"size":38,"strokeWidth":1.1,"opacity":1},
      "encoding":{
       "x":{"field":"x","type":"quantitative","scale":{"domain":[-1.16,1.15],"nice":false,"zero":false},"axis":{"values":[-1.1,-1,-0.9,-0.8,-0.7,-0.6,-0.5,-0.4,-0.3,-0.2,-0.1,0,0.1,0.2,0.3,0.4,0.5,0.6,0.7,0.8,0.9,1,1.1],"format":"~g","labelExpr":"indexof([-1,-0.5,0,0.5,1],datum.value)>=0?datum.label:''","tickSize":{"condition":{"test":"indexof([-1,-0.5,0,0.5,1],datum.value)>=0","value":-7},"value":-3.5},"labelPadding":11,"title":"cosθGen","titlePadding":5}},
       "y":{"field":"y","type":"quantitative","scale":{"domain":[0.005,0.018],"nice":false,"zero":false},"axis":{"values":[0.005,0.0055,0.006,0.0065,0.007,0.0075,0.008,0.0085,0.009,0.0095,0.01,0.0105,0.011,0.0115,0.012,0.0125,0.013,0.0135,0.014,0.0145,0.015,0.0155,0.016,0.0165,0.017,0.0175,0.018],"format":"~g","labelExpr":"indexof([0.006,0.008,0.01,0.012,0.014,0.016,0.018],datum.value)>=0?datum.label:''","tickSize":{"condition":{"test":"indexof([0.006,0.008,0.01,0.012,0.014,0.016,0.018],datum.value)>=0","value":-7},"value":-3.5},"labelPadding":10.5,"title":"Jet Angular Resolution (θ)","titlePadding":10}},
       "shape":{"field":"s","type":"nominal","scale":{"domain":["W1","Z1","H1","W2","Z2","H2"],"range":["triangle-up","circle","square","triangle-up","circle","square"]},"legend":{"title":null,"labelExpr":"datum.value=='W1'?'WW→μνqq\u0304':datum.value=='W2'?'WW→qq\u0304qq\u0304':datum.value=='Z1'?'ZZ →νν\u0304qq\u0304':datum.value=='Z2'?'ZZ →qq\u0304qq\u0304':datum.value=='H1'?'ZH →ννqq\u0304':'ZH →qq\u0304qq\u0304'"}},
       "stroke":{"field":"s","type":"nominal","scale":{"domain":["W1","Z1","H1","W2","Z2","H2"],"range":["#2277ee","#e9464e","#4fc292","#3f8ff2","#ea5058","#4fc292"]},"legend":{"title":null,"labelExpr":"datum.value=='W1'?'WW→μνqq\u0304':datum.value=='W2'?'WW→qq\u0304qq\u0304':datum.value=='Z1'?'ZZ →νν\u0304qq\u0304':datum.value=='Z2'?'ZZ →qq\u0304qq\u0304':datum.value=='H1'?'ZH →ννqq\u0304':'ZH →qq\u0304qq\u0304'"}},
       "fill":{"field":"s","type":"nominal","scale":{"domain":["W1","Z1","H1","W2","Z2","H2"],"range":["#2277ee","#e9464e","#4fc292","transparent","transparent","transparent"]},"legend":{"title":null,"labelExpr":"datum.value=='W1'?'WW→μνqq\u0304':datum.value=='W2'?'WW→qq\u0304qq\u0304':datum.value=='Z1'?'ZZ →νν\u0304qq\u0304':datum.value=='Z2'?'ZZ →qq\u0304qq\u0304':datum.value=='H1'?'ZH →ννqq\u0304':'ZH →qq\u0304qq\u0304'"}}
      }},
     {"data":{"values":[{}]},"mark":{"type":"text","text":"CEPC","fontSize":12.5,"fontWeight":"bold","fontStyle":"italic","align":"left","baseline":"middle"},
      "encoding":{"x":{"datum":-1.033,"type":"quantitative","axis":{"orient":"top","values":[-1.1,-1,-0.9,-0.8,-0.7,-0.6,-0.5,-0.4,-0.3,-0.2,-0.1,0,0.1,0.2,0.3,0.4,0.5,0.6,0.7,0.8,0.9,1,1.1],"labels":false,"title":null,"tickSize":{"condition":{"test":"indexof([-1,-0.5,0,0.5,1],datum.value)>=0","value":-7},"value":-3.5}}},
                  "y":{"datum":0.01703,"type":"quantitative","axis":{"orient":"right","values":[0.005,0.0055,0.006,0.0065,0.007,0.0075,0.008,0.0085,0.009,0.0095,0.01,0.0105,0.011,0.0115,0.012,0.0125,0.013,0.0135,0.014,0.0145,0.015,0.0155,0.016,0.0165,0.017,0.0175,0.018],"labels":false,"title":null,"tickSize":{"condition":{"test":"indexof([0.006,0.008,0.01,0.012,0.014,0.016,0.018],datum.value)>=0","value":-7},"value":-3.5}}}}},
     {"data":{"values":[{}]},"mark":{"type":"text","text":"(240 GeV)","fontSize":9,"align":"right","baseline":"bottom","dy":-2},
      "encoding":{"x":{"datum":1.15,"type":"quantitative","axis":null},"y":{"datum":0.018,"type":"quantitative","axis":null}}}
    ]},
   {"width":212,"height":222.7,"title":{"text":"(b)","orient":"bottom","offset":24},"resolve":{"axis":{"x":"independent","y":"independent"}},
    "layer":[
     {"transform":[{"filter":"datum.p=='H'"}],"mark":{"type":"point","filled":true,"size":38,"strokeWidth":1.1,"opacity":1},
      "encoding":{
       "x":{"field":"x","type":"quantitative","scale":{"domain":[-1.16,1.15],"nice":false,"zero":false},"axis":{"values":[-1.1,-1,-0.9,-0.8,-0.7,-0.6,-0.5,-0.4,-0.3,-0.2,-0.1,0,0.1,0.2,0.3,0.4,0.5,0.6,0.7,0.8,0.9,1,1.1],"format":"~g","labelExpr":"indexof([-1,-0.5,0,0.5,1],datum.value)>=0?datum.label:''","tickSize":{"condition":{"test":"indexof([-1,-0.5,0,0.5,1],datum.value)>=0","value":-7},"value":-3.5},"labelPadding":11,"title":"cosθGen","titlePadding":5}},
       "y":{"field":"y","type":"quantitative","scale":{"domain":[0.005,0.03],"nice":false,"zero":false},"axis":{"values":[0.005,0.006,0.007,0.008,0.009,0.01,0.011,0.012,0.013,0.014,0.015,0.016,0.017,0.018,0.019,0.02,0.021,0.022,0.023,0.024,0.025,0.026,0.027,0.028,0.029,0.03],"format":"~g","labelExpr":"indexof([0.005,0.01,0.015,0.02,0.025,0.03],datum.value)>=0?datum.label:''","tickSize":{"condition":{"test":"indexof([0.005,0.01,0.015,0.02,0.025,0.03],datum.value)>=0","value":-7},"value":-3.5},"labelPadding":10.5,"title":"Jet Angular Resolution (φ)","titlePadding":10}},
       "shape":{"field":"s","type":"nominal","scale":{"domain":["W1","Z1","H1","W2","Z2","H2"],"range":["triangle-up","circle","square","triangle-up","circle","square"]},"legend":{"title":null,"labelExpr":"datum.value=='W1'?'WW→μνqq\u0304':datum.value=='W2'?'WW→qq\u0304qq\u0304':datum.value=='Z1'?'ZZ →νν\u0304qq\u0304':datum.value=='Z2'?'ZZ →qq\u0304qq\u0304':datum.value=='H1'?'ZH →ννqq\u0304':'ZH →qq\u0304qq\u0304'"}},
       "stroke":{"field":"s","type":"nominal","scale":{"domain":["W1","Z1","H1","W2","Z2","H2"],"range":["#2277ee","#e9464e","#4fc292","#3f8ff2","#ea5058","#4fc292"]},"legend":{"title":null,"labelExpr":"datum.value=='W1'?'WW→μνqq\u0304':datum.value=='W2'?'WW→qq\u0304qq\u0304':datum.value=='Z1'?'ZZ →νν\u0304qq\u0304':datum.value=='Z2'?'ZZ →qq\u0304qq\u0304':datum.value=='H1'?'ZH →ννqq\u0304':'ZH →qq\u0304qq\u0304'"}},
       "fill":{"field":"s","type":"nominal","scale":{"domain":["W1","Z1","H1","W2","Z2","H2"],"range":["#2277ee","#e9464e","#4fc292","transparent","transparent","transparent"]},"legend":{"title":null,"labelExpr":"datum.value=='W1'?'WW→μνqq\u0304':datum.value=='W2'?'WW→qq\u0304qq\u0304':datum.value=='Z1'?'ZZ →νν\u0304qq\u0304':datum.value=='Z2'?'ZZ →qq\u0304qq\u0304':datum.value=='H1'?'ZH →ννqq\u0304':'ZH →qq\u0304qq\u0304'"}}
      }},
     {"data":{"values":[{}]},"mark":{"type":"text","text":"CEPC","fontSize":12.5,"fontWeight":"bold","fontStyle":"italic","align":"left","baseline":"middle"},
      "encoding":{"x":{"datum":-1.033,"type":"quantitative","axis":{"orient":"top","values":[-1.1,-1,-0.9,-0.8,-0.7,-0.6,-0.5,-0.4,-0.3,-0.2,-0.1,0,0.1,0.2,0.3,0.4,0.5,0.6,0.7,0.8,0.9,1,1.1],"labels":false,"title":null,"tickSize":{"condition":{"test":"indexof([-1,-0.5,0,0.5,1],datum.value)>=0","value":-7},"value":-3.5}}},
                  "y":{"datum":0.02813,"type":"quantitative","axis":{"orient":"right","values":[0.005,0.006,0.007,0.008,0.009,0.01,0.011,0.012,0.013,0.014,0.015,0.016,0.017,0.018,0.019,0.02,0.021,0.022,0.023,0.024,0.025,0.026,0.027,0.028,0.029,0.03],"labels":false,"title":null,"tickSize":{"condition":{"test":"indexof([0.005,0.01,0.015,0.02,0.025,0.03],datum.value)>=0","value":-7},"value":-3.5}}}}},
     {"data":{"values":[{}]},"mark":{"type":"text","text":"(240 GeV)","fontSize":9,"align":"right","baseline":"bottom","dy":-2},
      "encoding":{"x":{"datum":1.15,"type":"quantitative","axis":null},"y":{"datum":0.03,"type":"quantitative","axis":null}}}
    ]},
   {"width":212,"height":222.7,"title":{"text":"(c)","orient":"bottom","offset":24},"resolve":{"axis":{"x":"independent","y":"independent"}},
    "layer":[
     {"transform":[{"filter":"datum.p=='I'"}],"mark":{"type":"point","filled":true,"size":38,"strokeWidth":1.1,"opacity":1},
      "encoding":{
       "x":{"field":"x","type":"quantitative","scale":{"domain":[-3.6,3.6],"nice":false,"zero":false},"axis":{"values":[-3.4,-3.2,-3,-2.8,-2.6,-2.4,-2.2,-2,-1.8,-1.6,-1.4,-1.2,-1,-0.8,-0.6,-0.4,-0.2,0,0.2,0.4,0.6,0.8,1,1.2,1.4,1.6,1.8,2,2.2,2.4,2.6,2.8,3,3.2,3.4],"format":"~g","labelExpr":"indexof([-3,-2,-1,0,1,2,3],datum.value)>=0?datum.label:''","tickSize":{"condition":{"test":"indexof([-3,-2,-1,0,1,2,3],datum.value)>=0","value":-7},"value":-3.5},"labelPadding":11,"title":"φGen","titlePadding":5}},
       "y":{"field":"y","type":"quantitative","scale":{"domain":[0.005,0.018],"nice":false,"zero":false},"axis":{"values":[0.005,0.0055,0.006,0.0065,0.007,0.0075,0.008,0.0085,0.009,0.0095,0.01,0.0105,0.011,0.0115,0.012,0.0125,0.013,0.0135,0.014,0.0145,0.015,0.0155,0.016,0.0165,0.017,0.0175,0.018],"format":"~g","labelExpr":"indexof([0.006,0.008,0.01,0.012,0.014,0.016,0.018],datum.value)>=0?datum.label:''","tickSize":{"condition":{"test":"indexof([0.006,0.008,0.01,0.012,0.014,0.016,0.018],datum.value)>=0","value":-7},"value":-3.5},"labelPadding":10.5,"title":"Jet Angular Resolution (θ)","titlePadding":10}},
       "shape":{"field":"s","type":"nominal","scale":{"domain":["W1","Z1","H1","W2","Z2","H2"],"range":["triangle-up","circle","square","triangle-up","circle","square"]},"legend":{"title":null,"labelExpr":"datum.value=='W1'?'WW→μνqq\u0304':datum.value=='W2'?'WW→qq\u0304qq\u0304':datum.value=='Z1'?'ZZ →νν\u0304qq\u0304':datum.value=='Z2'?'ZZ →qq\u0304qq\u0304':datum.value=='H1'?'ZH →ννqq\u0304':'ZH →qq\u0304qq\u0304'"}},
       "stroke":{"field":"s","type":"nominal","scale":{"domain":["W1","Z1","H1","W2","Z2","H2"],"range":["#2277ee","#e9464e","#4fc292","#3f8ff2","#ea5058","#4fc292"]},"legend":{"title":null,"labelExpr":"datum.value=='W1'?'WW→μνqq\u0304':datum.value=='W2'?'WW→qq\u0304qq\u0304':datum.value=='Z1'?'ZZ →νν\u0304qq\u0304':datum.value=='Z2'?'ZZ →qq\u0304qq\u0304':datum.value=='H1'?'ZH →ννqq\u0304':'ZH →qq\u0304qq\u0304'"}},
       "fill":{"field":"s","type":"nominal","scale":{"domain":["W1","Z1","H1","W2","Z2","H2"],"range":["#2277ee","#e9464e","#4fc292","transparent","transparent","transparent"]},"legend":{"title":null,"labelExpr":"datum.value=='W1'?'WW→μνqq\u0304':datum.value=='W2'?'WW→qq\u0304qq\u0304':datum.value=='Z1'?'ZZ →νν\u0304qq\u0304':datum.value=='Z2'?'ZZ →qq\u0304qq\u0304':datum.value=='H1'?'ZH →ννqq\u0304':'ZH →qq\u0304qq\u0304'"}}
      }},
     {"data":{"values":[{}]},"mark":{"type":"text","text":"CEPC","fontSize":12.5,"fontWeight":"bold","fontStyle":"italic","align":"left","baseline":"middle"},
      "encoding":{"x":{"datum":-3.204,"type":"quantitative","axis":{"orient":"top","values":[-3.4,-3.2,-3,-2.8,-2.6,-2.4,-2.2,-2,-1.8,-1.6,-1.4,-1.2,-1,-0.8,-0.6,-0.4,-0.2,0,0.2,0.4,0.6,0.8,1,1.2,1.4,1.6,1.8,2,2.2,2.4,2.6,2.8,3,3.2,3.4],"labels":false,"title":null,"tickSize":{"condition":{"test":"indexof([-3,-2,-1,0,1,2,3],datum.value)>=0","value":-7},"value":-3.5}}},
                  "y":{"datum":0.01703,"type":"quantitative","axis":{"orient":"right","values":[0.005,0.0055,0.006,0.0065,0.007,0.0075,0.008,0.0085,0.009,0.0095,0.01,0.0105,0.011,0.0115,0.012,0.0125,0.013,0.0135,0.014,0.0145,0.015,0.0155,0.016,0.0165,0.017,0.0175,0.018],"labels":false,"title":null,"tickSize":{"condition":{"test":"indexof([0.006,0.008,0.01,0.012,0.014,0.016,0.018],datum.value)>=0","value":-7},"value":-3.5}}}}},
     {"data":{"values":[{}]},"mark":{"type":"text","text":"(240 GeV)","fontSize":9,"align":"right","baseline":"bottom","dy":-2},
      "encoding":{"x":{"datum":3.6,"type":"quantitative","axis":null},"y":{"datum":0.018,"type":"quantitative","axis":null}}}
    ]},
   {"width":212,"height":222.7,"title":{"text":"(d)","orient":"bottom","offset":24},"resolve":{"axis":{"x":"independent","y":"independent"}},
    "layer":[
     {"transform":[{"filter":"datum.p=='J'"}],"mark":{"type":"point","filled":true,"size":38,"strokeWidth":1.1,"opacity":1},
      "encoding":{
       "x":{"field":"x","type":"quantitative","scale":{"domain":[-3.6,3.6],"nice":false,"zero":false},"axis":{"values":[-3.4,-3.2,-3,-2.8,-2.6,-2.4,-2.2,-2,-1.8,-1.6,-1.4,-1.2,-1,-0.8,-0.6,-0.4,-0.2,0,0.2,0.4,0.6,0.8,1,1.2,1.4,1.6,1.8,2,2.2,2.4,2.6,2.8,3,3.2,3.4],"format":"~g","labelExpr":"indexof([-3,-2,-1,0,1,2,3],datum.value)>=0?datum.label:''","tickSize":{"condition":{"test":"indexof([-3,-2,-1,0,1,2,3],datum.value)>=0","value":-7},"value":-3.5},"labelPadding":11,"title":"φGen","titlePadding":5}},
       "y":{"field":"y","type":"quantitative","scale":{"domain":[0.005,0.018],"nice":false,"zero":false},"axis":{"values":[0.005,0.0055,0.006,0.0065,0.007,0.0075,0.008,0.0085,0.009,0.0095,0.01,0.0105,0.011,0.0115,0.012,0.0125,0.013,0.0135,0.014,0.0145,0.015,0.0155,0.016,0.0165,0.017,0.0175,0.018],"format":"~g","labelExpr":"indexof([0.006,0.008,0.01,0.012,0.014,0.016,0.018],datum.value)>=0?datum.label:''","tickSize":{"condition":{"test":"indexof([0.006,0.008,0.01,0.012,0.014,0.016,0.018],datum.value)>=0","value":-7},"value":-3.5},"labelPadding":10.5,"title":"Jet Angular Resolution (φ)","titlePadding":10}},
       "shape":{"field":"s","type":"nominal","scale":{"domain":["W1","Z1","H1","W2","Z2","H2"],"range":["triangle-up","circle","square","triangle-up","circle","square"]},"legend":{"title":null,"labelExpr":"datum.value=='W1'?'WW→μνqq\u0304':datum.value=='W2'?'WW→qq\u0304qq\u0304':datum.value=='Z1'?'ZZ →νν\u0304qq\u0304':datum.value=='Z2'?'ZZ →qq\u0304qq\u0304':datum.value=='H1'?'ZH →ννqq\u0304':'ZH →qq\u0304qq\u0304'"}},
       "stroke":{"field":"s","type":"nominal","scale":{"domain":["W1","Z1","H1","W2","Z2","H2"],"range":["#2277ee","#e9464e","#4fc292","#3f8ff2","#ea5058","#4fc292"]},"legend":{"title":null,"labelExpr":"datum.value=='W1'?'WW→μνqq\u0304':datum.value=='W2'?'WW→qq\u0304qq\u0304':datum.value=='Z1'?'ZZ →νν\u0304qq\u0304':datum.value=='Z2'?'ZZ →qq\u0304qq\u0304':datum.value=='H1'?'ZH →ννqq\u0304':'ZH →qq\u0304qq\u0304'"}},
       "fill":{"field":"s","type":"nominal","scale":{"domain":["W1","Z1","H1","W2","Z2","H2"],"range":["#2277ee","#e9464e","#4fc292","transparent","transparent","transparent"]},"legend":{"title":null,"labelExpr":"datum.value=='W1'?'WW→μνqq\u0304':datum.value=='W2'?'WW→qq\u0304qq\u0304':datum.value=='Z1'?'ZZ →νν\u0304qq\u0304':datum.value=='Z2'?'ZZ →qq\u0304qq\u0304':datum.value=='H1'?'ZH →ννqq\u0304':'ZH →qq\u0304qq\u0304'"}}
      }},
     {"data":{"values":[{}]},"mark":{"type":"text","text":"CEPC","fontSize":12.5,"fontWeight":"bold","fontStyle":"italic","align":"left","baseline":"middle"},
      "encoding":{"x":{"datum":-3.204,"type":"quantitative","axis":{"orient":"top","values":[-3.4,-3.2,-3,-2.8,-2.6,-2.4,-2.2,-2,-1.8,-1.6,-1.4,-1.2,-1,-0.8,-0.6,-0.4,-0.2,0,0.2,0.4,0.6,0.8,1,1.2,1.4,1.6,1.8,2,2.2,2.4,2.6,2.8,3,3.2,3.4],"labels":false,"title":null,"tickSize":{"condition":{"test":"indexof([-3,-2,-1,0,1,2,3],datum.value)>=0","value":-7},"value":-3.5}}},
                  "y":{"datum":0.01703,"type":"quantitative","axis":{"orient":"right","values":[0.005,0.0055,0.006,0.0065,0.007,0.0075,0.008,0.0085,0.009,0.0095,0.01,0.0105,0.011,0.0115,0.012,0.0125,0.013,0.0135,0.014,0.0145,0.015,0.0155,0.016,0.0165,0.017,0.0175,0.018],"labels":false,"title":null,"tickSize":{"condition":{"test":"indexof([0.006,0.008,0.01,0.012,0.014,0.016,0.018],datum.value)>=0","value":-7},"value":-3.5}}}}},
     {"data":{"values":[{}]},"mark":{"type":"text","text":"(240 GeV)","fontSize":9,"align":"right","baseline":"bottom","dy":-2},
      "encoding":{"x":{"datum":3.6,"type":"quantitative","axis":null},"y":{"datum":0.018,"type":"quantitative","axis":null}}}
    ]},
   {"width":212,"height":222.7,"title":{"text":"(e)","orient":"bottom","offset":24},"resolve":{"axis":{"x":"independent","y":"independent"}},
    "layer":[
     {"transform":[{"filter":"datum.p=='K'"}],"mark":{"type":"point","filled":true,"size":38,"strokeWidth":1.1,"opacity":1},
      "encoding":{
       "x":{"field":"x","type":"quantitative","scale":{"domain":[0.6,111.6],"nice":false,"zero":false},"axis":{"values":[4,8,12,16,20,24,28,32,36,40,44,48,52,56,60,64,68,72,76,80,84,88,92,96,100,104,108],"format":"~g","labelExpr":"datum.value%20==0?datum.label:''","tickSize":{"condition":{"test":"datum.value%20==0","value":-7},"value":-3.5},"labelPadding":11,"title":"EGen (GeV)","titlePadding":5}},
       "y":{"field":"y","type":"quantitative","scale":{"domain":[0.005,0.018],"nice":false,"zero":false},"axis":{"values":[0.005,0.0055,0.006,0.0065,0.007,0.0075,0.008,0.0085,0.009,0.0095,0.01,0.0105,0.011,0.0115,0.012,0.0125,0.013,0.0135,0.014,0.0145,0.015,0.0155,0.016,0.0165,0.017,0.0175,0.018],"format":"~g","labelExpr":"indexof([0.006,0.008,0.01,0.012,0.014,0.016,0.018],datum.value)>=0?datum.label:''","tickSize":{"condition":{"test":"indexof([0.006,0.008,0.01,0.012,0.014,0.016,0.018],datum.value)>=0","value":-7},"value":-3.5},"labelPadding":10.5,"title":"Jet Angular Resolution (θ)","titlePadding":10}},
       "shape":{"field":"s","type":"nominal","scale":{"domain":["W1","Z1","H1","W2","Z2","H2"],"range":["triangle-up","circle","square","triangle-up","circle","square"]},"legend":{"title":null,"labelExpr":"datum.value=='W1'?'WW→μνqq\u0304':datum.value=='W2'?'WW→qq\u0304qq\u0304':datum.value=='Z1'?'ZZ →νν\u0304qq\u0304':datum.value=='Z2'?'ZZ →qq\u0304qq\u0304':datum.value=='H1'?'ZH →ννqq\u0304':'ZH →qq\u0304qq\u0304'"}},
       "stroke":{"field":"s","type":"nominal","scale":{"domain":["W1","Z1","H1","W2","Z2","H2"],"range":["#2277ee","#e9464e","#4fc292","#3f8ff2","#ea5058","#4fc292"]},"legend":{"title":null,"labelExpr":"datum.value=='W1'?'WW→μνqq\u0304':datum.value=='W2'?'WW→qq\u0304qq\u0304':datum.value=='Z1'?'ZZ →νν\u0304qq\u0304':datum.value=='Z2'?'ZZ →qq\u0304qq\u0304':datum.value=='H1'?'ZH →ννqq\u0304':'ZH →qq\u0304qq\u0304'"}},
       "fill":{"field":"s","type":"nominal","scale":{"domain":["W1","Z1","H1","W2","Z2","H2"],"range":["#2277ee","#e9464e","#4fc292","transparent","transparent","transparent"]},"legend":{"title":null,"labelExpr":"datum.value=='W1'?'WW→μνqq\u0304':datum.value=='W2'?'WW→qq\u0304qq\u0304':datum.value=='Z1'?'ZZ →νν\u0304qq\u0304':datum.value=='Z2'?'ZZ →qq\u0304qq\u0304':datum.value=='H1'?'ZH →ννqq\u0304':'ZH →qq\u0304qq\u0304'"}}
      }},
     {"data":{"values":[{}]},"mark":{"type":"text","text":"CEPC","fontSize":12.5,"fontWeight":"bold","fontStyle":"italic","align":"left","baseline":"middle"},
      "encoding":{"x":{"datum":6.7,"type":"quantitative","axis":{"orient":"top","values":[4,8,12,16,20,24,28,32,36,40,44,48,52,56,60,64,68,72,76,80,84,88,92,96,100,104,108],"labels":false,"title":null,"tickSize":{"condition":{"test":"datum.value%20==0","value":-7},"value":-3.5}}},
                  "y":{"datum":0.01703,"type":"quantitative","axis":{"orient":"right","values":[0.005,0.0055,0.006,0.0065,0.007,0.0075,0.008,0.0085,0.009,0.0095,0.01,0.0105,0.011,0.0115,0.012,0.0125,0.013,0.0135,0.014,0.0145,0.015,0.0155,0.016,0.0165,0.017,0.0175,0.018],"labels":false,"title":null,"tickSize":{"condition":{"test":"indexof([0.006,0.008,0.01,0.012,0.014,0.016,0.018],datum.value)>=0","value":-7},"value":-3.5}}}}},
     {"data":{"values":[{}]},"mark":{"type":"text","text":"(240 GeV)","fontSize":9,"align":"right","baseline":"bottom","dy":-2},
      "encoding":{"x":{"datum":111.6,"type":"quantitative","axis":null},"y":{"datum":0.018,"type":"quantitative","axis":null}}}
    ]},
   {"width":212,"height":222.7,"title":{"text":"(f)","orient":"bottom","offset":24},"resolve":{"axis":{"x":"independent","y":"independent"}},
    "layer":[
     {"transform":[{"filter":"datum.p=='L'"}],"mark":{"type":"point","filled":true,"size":38,"strokeWidth":1.1,"opacity":1},
      "encoding":{
       "x":{"field":"x","type":"quantitative","scale":{"domain":[0.6,111.6],"nice":false,"zero":false},"axis":{"values":[4,8,12,16,20,24,28,32,36,40,44,48,52,56,60,64,68,72,76,80,84,88,92,96,100,104,108],"format":"~g","labelExpr":"datum.value%20==0?datum.label:''","tickSize":{"condition":{"test":"datum.value%20==0","value":-7},"value":-3.5},"labelPadding":11,"title":"EGen (GeV)","titlePadding":5}},
       "y":{"field":"y","type":"quantitative","scale":{"domain":[0.005,0.03],"nice":false,"zero":false},"axis":{"values":[0.005,0.006,0.007,0.008,0.009,0.01,0.011,0.012,0.013,0.014,0.015,0.016,0.017,0.018,0.019,0.02,0.021,0.022,0.023,0.024,0.025,0.026,0.027,0.028,0.029,0.03],"format":"~g","labelExpr":"indexof([0.005,0.01,0.015,0.02,0.025,0.03],datum.value)>=0?datum.label:''","tickSize":{"condition":{"test":"indexof([0.005,0.01,0.015,0.02,0.025,0.03],datum.value)>=0","value":-7},"value":-3.5},"labelPadding":10.5,"title":"Jet Angular Resolution (φ)","titlePadding":10}},
       "shape":{"field":"s","type":"nominal","scale":{"domain":["W1","Z1","H1","W2","Z2","H2"],"range":["triangle-up","circle","square","triangle-up","circle","square"]},"legend":{"title":null,"labelExpr":"datum.value=='W1'?'WW→μνqq\u0304':datum.value=='W2'?'WW→qq\u0304qq\u0304':datum.value=='Z1'?'ZZ →νν\u0304qq\u0304':datum.value=='Z2'?'ZZ →qq\u0304qq\u0304':datum.value=='H1'?'ZH →ννqq\u0304':'ZH →qq\u0304qq\u0304'"}},
       "stroke":{"field":"s","type":"nominal","scale":{"domain":["W1","Z1","H1","W2","Z2","H2"],"range":["#2277ee","#e9464e","#4fc292","#3f8ff2","#ea5058","#4fc292"]},"legend":{"title":null,"labelExpr":"datum.value=='W1'?'WW→μνqq\u0304':datum.value=='W2'?'WW→qq\u0304qq\u0304':datum.value=='Z1'?'ZZ →νν\u0304qq\u0304':datum.value=='Z2'?'ZZ →qq\u0304qq\u0304':datum.value=='H1'?'ZH →ννqq\u0304':'ZH →qq\u0304qq\u0304'"}},
       "fill":{"field":"s","type":"nominal","scale":{"domain":["W1","Z1","H1","W2","Z2","H2"],"range":["#2277ee","#e9464e","#4fc292","transparent","transparent","transparent"]},"legend":{"title":null,"labelExpr":"datum.value=='W1'?'WW→μνqq\u0304':datum.value=='W2'?'WW→qq\u0304qq\u0304':datum.value=='Z1'?'ZZ →νν\u0304qq\u0304':datum.value=='Z2'?'ZZ →qq\u0304qq\u0304':datum.value=='H1'?'ZH →ννqq\u0304':'ZH →qq\u0304qq\u0304'"}}
      }},
     {"data":{"values":[{}]},"mark":{"type":"text","text":"CEPC","fontSize":12.5,"fontWeight":"bold","fontStyle":"italic","align":"left","baseline":"middle"},
      "encoding":{"x":{"datum":6.7,"type":"quantitative","axis":{"orient":"top","values":[4,8,12,16,20,24,28,32,36,40,44,48,52,56,60,64,68,72,76,80,84,88,92,96,100,104,108],"labels":false,"title":null,"tickSize":{"condition":{"test":"datum.value%20==0","value":-7},"value":-3.5}}},
                  "y":{"datum":0.02813,"type":"quantitative","axis":{"orient":"right","values":[0.005,0.006,0.007,0.008,0.009,0.01,0.011,0.012,0.013,0.014,0.015,0.016,0.017,0.018,0.019,0.02,0.021,0.022,0.023,0.024,0.025,0.026,0.027,0.028,0.029,0.03],"labels":false,"title":null,"tickSize":{"condition":{"test":"indexof([0.005,0.01,0.015,0.02,0.025,0.03],datum.value)>=0","value":-7},"value":-3.5}}}}},
     {"data":{"values":[{}]},"mark":{"type":"text","text":"(240 GeV)","fontSize":9,"align":"right","baseline":"bottom","dy":-2},
      "encoding":{"x":{"datum":111.6,"type":"quantitative","axis":null},"y":{"datum":0.03,"type":"quantitative","axis":null}}}
    ]}
  ],
  "columns": 2, "spacing": {"row": 106.3, "column": 73}, "bounds": "flush",
  "resolve": {"scale": {"x":"independent","y":"independent","shape":"independent","stroke":"independent","fill":"independent"}}}
 ], "spacing": 44,
 "resolve": {"scale": {"x":"independent","y":"independent","shape":"independent","stroke":"independent","fill":"independent"}}},
 {"vconcat": [
  {"width":618,"height":88,"data":{"values":[]},"mark":{"type":"point"},"encoding":{},"view":{"stroke":null}},
  {"width":618,"height":644,"view":{"strokeWidth":2},"resolve":{"axis":{"x":"independent","y":"independent"}},
   "layer":[
    {"transform":[{"filter":"datum.p=='M'"}],"mark":{"type":"point","filled":true,"size":280,"strokeWidth":2,"opacity":1},
     "encoding":{
      "x":{"field":"x","type":"quantitative","scale":{"type":"log","domain":[14.15,1128],"nice":false},"axis":{"values":[20,30,40,50,60,70,80,90,100,200,300,400,500,600,700,800,900,1000],"labelExpr":"datum.value==100?'10²':datum.value==1000?'10³':''","tickSize":{"condition":{"test":"datum.value==100||datum.value==1000","value":-19},"value":-9},"tickWidth":2,"labelFontSize":34,"labelPadding":32,"title":"PT, Reco (GeV)","titleFontSize":36,"titlePadding":-2}},
      "y":{"field":"y","type":"quantitative","scale":{"domain":[0,0.185],"nice":false,"zero":false},"axis":{"values":[0,0.005,0.01,0.015,0.02,0.025,0.03,0.035,0.04,0.045,0.05,0.055,0.06,0.065,0.07,0.075,0.08,0.085,0.09,0.095,0.1,0.105,0.11,0.115,0.12,0.125,0.13,0.135,0.14,0.145,0.15,0.155,0.16,0.165,0.17,0.175,0.18],"format":"~g","labelExpr":"indexof([0,0.02,0.04,0.06,0.08,0.1,0.12,0.14,0.16,0.18],datum.value)>=0?datum.label:''","tickSize":{"condition":{"test":"indexof([0,0.02,0.04,0.06,0.08,0.1,0.12,0.14,0.16,0.18],datum.value)>=0","value":-22},"value":-12},"tickWidth":2,"labelFontSize":34,"labelPadding":28,"title":"JER","titleFontSize":38,"titlePadding":4,"titleY":350}},
      "shape":{"field":"s","type":"nominal","scale":{"domain":["g","u","c","e"],"range":["triangle-up","M0,-1L0.55,0L0,1L-0.55,0Z","square","square"]},"legend":{"title":null,"orient":"none","legendX":271,"legendY":45,"columns":1,"labelFontSize":29,"symbolSize":300,"symbolStrokeWidth":2,"rowPadding":22,"labelOffset":22,"labelExpr":"datum.value=='g'?'CMS gluons':datum.value=='u'?'CMS uds quarks':datum.value=='c'?'CMS cb quarks':'CEPC inclusive'"}},
      "stroke":{"field":"s","type":"nominal","scale":{"domain":["g","u","c","e"],"range":["#3a3aff","#2e9e2e","#ff2222","#f5145b"]},"legend":{"title":null,"orient":"none","legendX":271,"legendY":45,"columns":1,"labelFontSize":29,"symbolSize":300,"symbolStrokeWidth":2,"rowPadding":22,"labelOffset":22,"labelExpr":"datum.value=='g'?'CMS gluons':datum.value=='u'?'CMS uds quarks':datum.value=='c'?'CMS cb quarks':'CEPC inclusive'"}},
      "fill":{"field":"s","type":"nominal","scale":{"domain":["g","u","c","e"],"range":["transparent","transparent","transparent","#f5145b"]},"legend":{"title":null,"orient":"none","legendX":271,"legendY":45,"columns":1,"labelFontSize":29,"symbolSize":300,"symbolStrokeWidth":2,"rowPadding":22,"labelOffset":22,"labelExpr":"datum.value=='g'?'CMS gluons':datum.value=='u'?'CMS uds quarks':datum.value=='c'?'CMS cb quarks':'CEPC inclusive'"}}
     }},
    {"data":{"values":[{}]},"mark":{"type":"text","text":"CEPC","fontSize":29,"fontWeight":"bold","fontStyle":"italic","align":"left","baseline":"alphabetic","dy":-8},
     "encoding":{"x":{"datum":14.15,"type":"quantitative","axis":{"orient":"top","values":[20,30,40,50,60,70,80,90,100,200,300,400,500,600,700,800,900,1000],"labels":false,"title":null,"tickWidth":2,"tickSize":{"condition":{"test":"datum.value==100||datum.value==1000","value":-19},"value":-9}}},
                 "y":{"datum":0.185,"type":"quantitative","axis":{"orient":"right","values":[0,0.005,0.01,0.015,0.02,0.025,0.03,0.035,0.04,0.045,0.05,0.055,0.06,0.065,0.07,0.075,0.08,0.085,0.09,0.095,0.1,0.105,0.11,0.115,0.12,0.125,0.13,0.135,0.14,0.145,0.15,0.155,0.16,0.165,0.17,0.175,0.18],"labels":false,"title":null,"tickWidth":2,"tickSize":{"condition":{"test":"indexof([0,0.02,0.04,0.06,0.08,0.1,0.12,0.14,0.16,0.18],datum.value)>=0","value":-22},"value":-12}}}}},
    {"data":{"values":[{}]},"mark":{"type":"text","text":"ZZ→ννqq\u0304  (240 GeV)","fontSize":28,"align":"right","baseline":"alphabetic","dy":-11},
     "encoding":{"x":{"datum":1128,"type":"quantitative","axis":null},"y":{"datum":0.185,"type":"quantitative","axis":null}}}
   ]}
 ], "spacing": 16.3, "bounds": "flush",
 "resolve": {"scale": {"x":"independent","y":"independent","shape":"independent","stroke":"independent","fill":"independent"}}}
],
"spacing": 81,
"resolve": {"scale": {"x":"independent","y":"independent","shape":"independent","stroke":"independent","fill":"independent"}}
}
